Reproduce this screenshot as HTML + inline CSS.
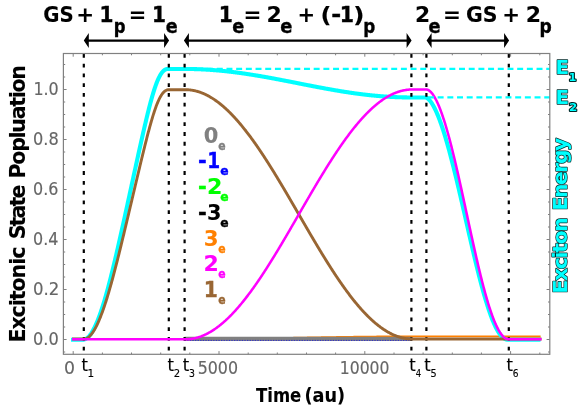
<!DOCTYPE html><html><head><meta charset="utf-8"><title>Excitonic State Population</title>
<style>html,body{margin:0;padding:0;background:#fff}svg{display:block}text{font-family:"DejaVu Sans Condensed","DejaVu Sans","Liberation Sans",sans-serif}.b{font-weight:bold}.r{font-family:"DejaVu Sans","Liberation Sans",sans-serif}</style></head><body>
<svg width="582" height="410" viewBox="0 0 582 410">
<rect width="582" height="410" fill="#fff"/>
<g fill="none" stroke-linejoin="round">
<path d="M190.43,339.00 L190.72,339.00 L191.02,338.99 L191.31,338.99 L191.60,338.99 L191.89,338.99 L192.18,338.99 L192.47,338.99 L192.77,338.99 L193.06,338.99 L193.35,338.99 L193.64,338.99 L193.93,338.99 L194.23,338.99 L194.52,338.99 L194.81,338.99 L195.10,338.99 L195.39,338.99 L195.69,338.98 L195.98,338.98 L196.27,338.98 L196.56,338.98 L196.85,338.98 L197.14,338.98 L197.44,338.98 L197.73,338.98 L198.02,338.98 L198.31,338.98 L198.60,338.98 L198.90,338.97 L199.19,338.97 L199.48,338.97 L199.77,338.97 L200.06,338.97 L200.35,338.97 L200.65,338.97 L200.94,338.97 L201.23,338.97 L201.52,338.96 L201.81,338.96 L202.11,338.96 L202.40,338.96 L202.69,338.96 L202.98,338.96 L203.27,338.96 L203.56,338.95 L203.86,338.95 L204.15,338.95 L204.44,338.95 L204.73,338.95 L205.02,338.95 L205.32,338.95 L205.61,338.94 L205.90,338.94 L206.19,338.94 L206.48,338.94 L206.77,338.94 L207.07,338.94 L207.36,338.94 L207.65,338.93 L207.94,338.93 L208.23,338.93 L208.53,338.93 L208.82,338.93 L209.11,338.93 L209.40,338.92 L209.69,338.92 L209.98,338.92 L210.28,338.92 L210.57,338.92 L210.86,338.91 L211.15,338.91 L211.44,338.91 L211.74,338.91 L212.03,338.91 L212.32,338.90 L212.61,338.90 L212.90,338.90 L213.20,338.90 L213.49,338.90 L213.78,338.89 L214.07,338.89 L214.36,338.89 L214.65,338.89 L214.95,338.89 L215.24,338.88 L215.53,338.88 L215.82,338.88 L216.11,338.88 L216.41,338.87 L216.70,338.87 L216.99,338.87 L217.28,338.87 L217.57,338.87 L217.86,338.86 L218.16,338.86 L218.45,338.86 L218.74,338.86 L219.03,338.85 L219.32,338.85 L219.62,338.85 L219.91,338.85 L220.20,338.84 L220.49,338.84 L220.78,338.84 L221.07,338.84 L221.37,338.83 L221.66,338.83 L221.95,338.83 L222.24,338.83 L222.53,338.82 L222.83,338.82 L223.12,338.82 L223.41,338.81 L223.70,338.81 L223.99,338.81 L224.28,338.81 L224.58,338.80 L224.87,338.80 L225.16,338.80 L225.45,338.80 L225.74,338.79 L226.04,338.79 L226.33,338.79 L226.62,338.78 L226.91,338.78 L227.20,338.78 L227.50,338.78 L227.79,338.77 L228.08,338.77 L228.37,338.77 L228.66,338.76 L228.95,338.76 L229.25,338.76 L229.54,338.75 L229.83,338.75 L230.12,338.75 L230.41,338.74 L230.71,338.74 L231.00,338.74 L231.29,338.73 L231.58,338.73 L231.87,338.73 L232.16,338.73 L232.46,338.72 L232.75,338.72 L233.04,338.72 L233.33,338.71 L233.62,338.71 L233.92,338.71 L234.21,338.70 L234.50,338.70 L234.79,338.70 L235.08,338.69 L235.37,338.69 L235.67,338.69 L235.96,338.68 L236.25,338.68 L236.54,338.67 L236.83,338.67 L237.13,338.67 L237.42,338.66 L237.71,338.66 L238.00,338.66 L238.29,338.65 L238.58,338.65 L238.88,338.65 L239.17,338.64 L239.46,338.64 L239.75,338.64 L240.04,338.63 L240.34,338.63 L240.63,338.62 L240.92,338.62 L241.21,338.62 L241.50,338.61 L241.80,338.61 L242.09,338.61 L242.38,338.60 L242.67,338.60 L242.96,338.59 L243.25,338.59 L243.55,338.59 L243.84,338.58 L244.13,338.58 L244.42,338.57 L244.71,338.57 L245.01,338.57 L245.30,338.56 L245.59,338.56 L245.88,338.55 L246.17,338.55 L246.46,338.55 L246.76,338.54 L247.05,338.54 L247.34,338.53 L247.63,338.53 L247.92,338.53 L248.22,338.52 L248.51,338.52 L248.80,338.51 L249.09,338.51 L249.38,338.51 L249.67,338.50 L249.97,338.50 L250.26,338.49 L250.55,338.49 L250.84,338.49 L251.13,338.48 L251.43,338.48 L251.72,338.47 L252.01,338.47 L252.30,338.46 L252.59,338.46 L252.88,338.46 L253.18,338.45 L253.47,338.45 L253.76,338.44 L254.05,338.44 L254.34,338.43 L254.64,338.43 L254.93,338.42 L255.22,338.42 L255.51,338.42 L255.80,338.41 L256.10,338.41 L256.39,338.40 L256.68,338.40 L256.97,338.39 L257.26,338.39 L257.55,338.38 L257.85,338.38 L258.14,338.38 L258.43,338.37 L258.72,338.37 L259.01,338.36 L259.31,338.36 L259.60,338.35 L259.89,338.35 L260.18,338.34 L260.47,338.34 L260.76,338.33 L261.06,338.33 L261.35,338.33 L261.64,338.32 L261.93,338.32 L262.22,338.31 L262.52,338.31 L262.81,338.30 L263.10,338.30 L263.39,338.29 L263.68,338.29 L263.97,338.28 L264.27,338.28 L264.56,338.27 L264.85,338.27 L265.14,338.26 L265.43,338.26 L265.73,338.25 L266.02,338.25 L266.31,338.25 L266.60,338.24 L266.89,338.24 L267.18,338.23 L267.48,338.23 L267.77,338.22 L268.06,338.22 L268.35,338.21 L268.64,338.21 L268.94,338.20 L269.23,338.20 L269.52,338.19 L269.81,338.19 L270.10,338.18 L270.39,338.18 L270.69,338.17 L270.98,338.17 L271.27,338.16 L271.56,338.16 L271.85,338.15 L272.15,338.15 L272.44,338.14 L272.73,338.14 L273.02,338.13 L273.31,338.13 L273.61,338.12 L273.90,338.12 L274.19,338.11 L274.48,338.11 L274.77,338.10 L275.06,338.10 L275.36,338.09 L275.65,338.09 L275.94,338.08 L276.23,338.08 L276.52,338.07 L276.82,338.07 L277.11,338.06 L277.40,338.06 L277.69,338.05 L277.98,338.05 L278.27,338.04 L278.57,338.04 L278.86,338.03 L279.15,338.03 L279.44,338.02 L279.73,338.02 L280.03,338.01 L280.32,338.01 L280.61,338.00 L280.90,338.00 L281.19,337.99 L281.48,337.99 L281.78,337.98 L282.07,337.97 L282.36,337.97 L282.65,337.96 L282.94,337.96 L283.24,337.95 L283.53,337.95 L283.82,337.94 L284.11,337.94 L284.40,337.93 L284.69,337.93 L284.99,337.92 L285.28,337.92 L285.57,337.91 L285.86,337.91 L286.15,337.90 L286.45,337.90 L286.74,337.89 L287.03,337.89 L287.32,337.88 L287.61,337.88 L287.91,337.87 L288.20,337.87 L288.49,337.86 L288.78,337.85 L289.07,337.85 L289.36,337.84 L289.66,337.84 L289.95,337.83 L290.24,337.83 L290.53,337.82 L290.82,337.82 L291.12,337.81 L291.41,337.81 L291.70,337.80 L291.99,337.80 L292.28,337.79 L292.57,337.79 L292.87,337.78 L293.16,337.78 L293.45,337.77 L293.74,337.76 L294.03,337.76 L294.33,337.75 L294.62,337.75 L294.91,337.74 L295.20,337.74 L295.49,337.73 L295.78,337.73 L296.08,337.72 L296.37,337.72 L296.66,337.71 L296.95,337.71 L297.24,337.70 L297.54,337.70 L297.83,337.69 L298.12,337.69 L298.41,337.68 L298.70,337.67 L298.99,337.67 L299.29,337.66 L299.58,337.66 L299.87,337.65 L300.16,337.65 L300.45,337.64 L300.75,337.64 L301.04,337.63 L301.33,337.63 L301.62,337.62 L301.91,337.62 L302.21,337.61 L302.50,337.61 L302.79,337.60 L303.08,337.60 L303.37,337.59 L303.66,337.58 L303.96,337.58 L304.25,337.57 L304.54,337.57 L304.83,337.56 L305.12,337.56 L305.42,337.55 L305.71,337.55 L306.00,337.54 L306.29,337.54 L306.58,337.53 L306.87,337.53 L307.17,337.52 L307.46,337.52 L307.75,337.51 L308.04,337.51 L308.33,337.50 L308.63,337.50 L308.92,337.49 L309.21,337.48 L309.50,337.48 L309.79,337.47 L310.08,337.47 L310.38,337.46 L310.67,337.46 L310.96,337.45 L311.25,337.45 L311.54,337.44 L311.84,337.44 L312.13,337.43 L312.42,337.43 L312.71,337.42 L313.00,337.42 L313.29,337.41 L313.59,337.41 L313.88,337.40 L314.17,337.40 L314.46,337.39 L314.75,337.39 L315.05,337.38 L315.34,337.38 L315.63,337.37 L315.92,337.37 L316.21,337.36 L316.51,337.35 L316.80,337.35 L317.09,337.34 L317.38,337.34 L317.67,337.33 L317.96,337.33 L318.26,337.32 L318.55,337.32 L318.84,337.31 L319.13,337.31 L319.42,337.30 L319.72,337.30 L320.01,337.29 L320.30,337.29 L320.59,337.28 L320.88,337.28 L321.17,337.27 L321.47,337.27 L321.76,337.26 L322.05,337.26 L322.34,337.25 L322.63,337.25 L322.93,337.24 L323.22,337.24 L323.51,337.23 L323.80,337.23 L324.09,337.22 L324.38,337.22 L324.68,337.21 L324.97,337.21 L325.26,337.20 L325.55,337.20 L325.84,337.19 L326.14,337.19 L326.43,337.18 L326.72,337.18 L327.01,337.17 L327.30,337.17 L327.59,337.16 L327.89,337.16 L328.18,337.15 L328.47,337.15 L328.76,337.15 L329.05,337.14 L329.35,337.14 L329.64,337.13 L329.93,337.13 L330.22,337.12 L330.51,337.12 L330.80,337.11 L331.10,337.11 L331.39,337.10 L331.68,337.10 L331.97,337.09 L332.26,337.09 L332.56,337.08 L332.85,337.08 L333.14,337.07 L333.43,337.07 L333.72,337.06 L334.02,337.06 L334.31,337.05 L334.60,337.05 L334.89,337.05 L335.18,337.04 L335.47,337.04 L335.77,337.03 L336.06,337.03 L336.35,337.02 L336.64,337.02 L336.93,337.01 L337.23,337.01 L337.52,337.00 L337.81,337.00 L338.10,337.00 L338.39,336.99 L338.68,336.99 L338.98,336.98 L339.27,336.98 L339.56,336.97 L339.85,336.97 L340.14,336.96 L340.44,336.96 L340.73,336.96 L341.02,336.95 L341.31,336.95 L341.60,336.94 L341.89,336.94 L342.19,336.93 L342.48,336.93 L342.77,336.92 L343.06,336.92 L343.35,336.92 L343.65,336.91 L343.94,336.91 L344.23,336.90 L344.52,336.90 L344.81,336.89 L345.10,336.89 L345.40,336.89 L345.69,336.88 L345.98,336.88 L346.27,336.87 L346.56,336.87 L346.86,336.87 L347.15,336.86 L347.44,336.86 L347.73,336.85 L348.02,336.85 L348.32,336.85 L348.61,336.84 L348.90,336.84 L349.19,336.83 L349.48,336.83 L349.77,336.82 L350.07,336.82 L350.36,336.82 L350.65,336.81 L350.94,336.81 L351.23,336.81 L351.53,336.80 L351.82,336.80 L352.11,336.79 L352.40,336.79 L352.69,336.79 L352.98,336.78 L353.28,336.78 L353.57,336.77 L353.86,336.77 L354.15,336.77 L354.44,336.76 L354.74,336.76 L355.03,336.76 L355.32,336.75 L355.61,336.75 L355.90,336.74 L356.19,336.74 L356.49,336.74 L356.78,336.73 L357.07,336.73 L357.36,336.73 L357.65,336.72 L357.95,336.72 L358.24,336.72 L358.53,336.71 L358.82,336.71 L359.11,336.70 L359.40,336.70 L359.70,336.70 L359.99,336.69 L360.28,336.69 L360.57,336.69 L360.86,336.68 L361.16,336.68 L361.45,336.68 L361.74,336.67 L362.03,336.67 L362.32,336.67 L362.62,336.66 L362.91,336.66 L363.20,336.66 L363.49,336.65 L363.78,336.65 L364.07,336.65 L364.37,336.64 L364.66,336.64 L364.95,336.64 L365.24,336.63 L365.53,336.63 L365.83,336.63 L366.12,336.62 L366.41,336.62 L366.70,336.62 L366.99,336.62 L367.28,336.61 L367.58,336.61 L367.87,336.61 L368.16,336.60 L368.45,336.60 L368.74,336.60 L369.04,336.59 L369.33,336.59 L369.62,336.59 L369.91,336.59 L370.20,336.58 L370.49,336.58 L370.79,336.58 L371.08,336.57 L371.37,336.57 L371.66,336.57 L371.95,336.57 L372.25,336.56 L372.54,336.56 L372.83,336.56 L373.12,336.56 L373.41,336.55 L373.70,336.55 L374.00,336.55 L374.29,336.54 L374.58,336.54 L374.87,336.54 L375.16,336.54 L375.46,336.53 L375.75,336.53 L376.04,336.53 L376.33,336.53 L376.62,336.52 L376.91,336.52 L377.21,336.52 L377.50,336.52 L377.79,336.51 L378.08,336.51 L378.37,336.51 L378.67,336.51 L378.96,336.51 L379.25,336.50 L379.54,336.50 L379.83,336.50 L380.13,336.50 L380.42,336.49 L380.71,336.49 L381.00,336.49 L381.29,336.49 L381.58,336.49 L381.88,336.48 L382.17,336.48 L382.46,336.48 L382.75,336.48 L383.04,336.47 L383.34,336.47 L383.63,336.47 L383.92,336.47 L384.21,336.47 L384.50,336.47 L384.79,336.46 L385.09,336.46 L385.38,336.46 L385.67,336.46 L385.96,336.46 L386.25,336.45 L386.55,336.45 L386.84,336.45 L387.13,336.45 L387.42,336.45 L387.71,336.45 L388.00,336.44 L388.30,336.44 L388.59,336.44 L388.88,336.44 L389.17,336.44 L389.46,336.44 L389.76,336.43 L390.05,336.43 L390.34,336.43 L390.63,336.43 L390.92,336.43 L391.21,336.43 L391.51,336.42 L391.80,336.42 L392.09,336.42 L392.38,336.42 L392.67,336.42 L392.97,336.42 L393.26,336.42 L393.55,336.41 L393.84,336.41 L394.13,336.41 L394.43,336.41 L394.72,336.41 L395.01,336.41 L395.30,336.41 L395.59,336.41 L395.88,336.41 L396.18,336.40 L396.47,336.40 L396.76,336.40 L397.05,336.40 L397.34,336.40 L397.64,336.40 L397.93,336.40 L398.22,336.40 L398.51,336.40 L398.80,336.39 L399.09,336.39 L399.39,336.39 L399.68,336.39 L399.97,336.39 L400.26,336.39 L400.55,336.39 L400.85,336.39 L401.14,336.39 L401.43,336.39 L401.72,336.39 L402.01,336.39 L402.30,336.39 L402.60,336.38 L402.89,336.38 L403.18,336.38 L403.47,336.38 L403.76,336.38 L404.06,336.38 L404.35,336.38 L404.64,336.38 L404.93,336.38 L405.22,336.38 L405.51,336.38 L405.81,336.38 L406.10,336.38 L406.39,336.38 L406.68,336.38 L406.97,336.38 L407.27,336.38 L407.56,336.38 L407.85,336.38 L408.14,336.38 L408.43,336.38 L408.73,336.38 L409.02,336.38 L409.31,336.38 L409.60,336.38 L409.89,336.38 L410.18,336.38 L410.48,336.38 L410.77,336.38 L411.06,336.38 L411.35,336.38 L411.64,336.38 L411.94,336.38 L412.23,336.38 L412.52,336.38 L412.81,336.38 L413.10,336.38 L413.39,336.38 L413.69,336.38 L413.98,336.38 L414.27,336.38 L414.56,336.38 L414.85,336.38 L415.15,336.38 L415.44,336.38 L415.73,336.38 L416.02,336.38 L416.31,336.38 L416.60,336.38 L416.90,336.38 L417.19,336.38 L417.48,336.38 L417.77,336.38 L418.06,336.38 L418.36,336.38 L418.65,336.38 L418.94,336.38 L419.23,336.38 L419.52,336.38 L419.81,336.38 L420.11,336.38 L420.40,336.38 L420.69,336.38 L420.98,336.38 L421.27,336.38 L421.57,336.38 L421.86,336.38 L422.15,336.38 L422.44,336.38 L422.73,336.38 L423.03,336.38 L423.32,336.38 L423.61,336.38 L423.90,336.38 L424.19,336.38 L424.48,336.38 L424.78,336.38 L425.07,336.38 L425.36,336.38 L425.65,336.38 L425.94,336.38 L426.24,336.38 L426.53,336.38 L426.82,336.38 L427.11,336.38 L427.40,336.38 L427.69,336.38 L427.99,336.38 L428.28,336.38 L428.57,336.38 L428.86,336.38 L429.15,336.38 L429.45,336.38 L429.74,336.38 L430.03,336.38 L430.32,336.38 L430.61,336.38 L430.90,336.38 L431.20,336.38 L431.49,336.38 L431.78,336.38 L432.07,336.38 L432.36,336.38 L432.66,336.38 L432.95,336.38 L433.24,336.38 L433.53,336.38 L433.82,336.38 L434.11,336.38 L434.41,336.38 L434.70,336.38 L434.99,336.38 L435.28,336.38 L435.57,336.38 L435.87,336.38 L436.16,336.38 L436.45,336.38 L436.74,336.38 L437.03,336.38 L437.32,336.38 L437.62,336.38 L437.91,336.38 L438.20,336.38 L438.49,336.38 L438.78,336.38 L439.08,336.38 L439.37,336.38 L439.66,336.38 L439.95,336.38 L440.24,336.38 L440.54,336.38 L440.83,336.38 L441.12,336.38 L441.41,336.38 L441.70,336.38 L441.99,336.38 L442.29,336.38 L442.58,336.38 L442.87,336.38 L443.16,336.38 L443.45,336.38 L443.75,336.38 L444.04,336.38 L444.33,336.38 L444.62,336.38 L444.91,336.38 L445.20,336.38 L445.50,336.38 L445.79,336.38 L446.08,336.38 L446.37,336.38 L446.66,336.38 L446.96,336.38 L447.25,336.38 L447.54,336.38 L447.83,336.38 L448.12,336.38 L448.41,336.38 L448.71,336.38 L449.00,336.38 L449.29,336.38 L449.58,336.38 L449.87,336.38 L450.17,336.38 L450.46,336.38 L450.75,336.38 L451.04,336.38 L451.33,336.38 L451.62,336.38 L451.92,336.38 L452.21,336.38 L452.50,336.38 L452.79,336.38 L453.08,336.38 L453.38,336.38 L453.67,336.38 L453.96,336.38 L454.25,336.38 L454.54,336.38 L454.84,336.38 L455.13,336.38 L455.42,336.38 L455.71,336.38 L456.00,336.38 L456.29,336.38 L456.59,336.38 L456.88,336.38 L457.17,336.38 L457.46,336.38 L457.75,336.38 L458.05,336.38 L458.34,336.38 L458.63,336.38 L458.92,336.38 L459.21,336.38 L459.50,336.38 L459.80,336.38 L460.09,336.38 L460.38,336.38 L460.67,336.38 L460.96,336.38 L461.26,336.38 L461.55,336.38 L461.84,336.38 L462.13,336.38 L462.42,336.38 L462.71,336.38 L463.01,336.38 L463.30,336.38 L463.59,336.38 L463.88,336.38 L464.17,336.38 L464.47,336.38 L464.76,336.38 L465.05,336.38 L465.34,336.38 L465.63,336.38 L465.92,336.38 L466.22,336.38 L466.51,336.38 L466.80,336.38 L467.09,336.38 L467.38,336.38 L467.68,336.38 L467.97,336.38 L468.26,336.38 L468.55,336.38 L468.84,336.38 L469.14,336.38 L469.43,336.38 L469.72,336.38 L470.01,336.38 L470.30,336.38 L470.59,336.38 L470.89,336.38 L471.18,336.38 L471.47,336.38 L471.76,336.38 L472.05,336.38 L472.35,336.38 L472.64,336.38 L472.93,336.38 L473.22,336.38 L473.51,336.38 L473.80,336.38 L474.10,336.38 L474.39,336.38 L474.68,336.38 L474.97,336.38 L475.26,336.38 L475.56,336.38 L475.85,336.38 L476.14,336.38 L476.43,336.38 L476.72,336.38 L477.01,336.38 L477.31,336.38 L477.60,336.38 L477.89,336.38 L478.18,336.38 L478.47,336.38 L478.77,336.38 L479.06,336.38 L479.35,336.38 L479.64,336.38 L479.93,336.38 L480.22,336.38 L480.52,336.38 L480.81,336.38 L481.10,336.38 L481.39,336.38 L481.68,336.38 L481.98,336.38 L482.27,336.38 L482.56,336.38 L482.85,336.38 L483.14,336.38 L483.44,336.38 L483.73,336.38 L484.02,336.38 L484.31,336.38 L484.60,336.38 L484.89,336.38 L485.19,336.38 L485.48,336.38 L485.77,336.38 L486.06,336.38 L486.35,336.38 L486.65,336.38 L486.94,336.38 L487.23,336.38 L487.52,336.38 L487.81,336.38 L488.10,336.38 L488.40,336.38 L488.69,336.38 L488.98,336.38 L489.27,336.38 L489.56,336.38 L489.86,336.38 L490.15,336.38 L490.44,336.38 L490.73,336.38 L491.02,336.38 L491.31,336.38 L491.61,336.38 L491.90,336.38 L492.19,336.38 L492.48,336.38 L492.77,336.38 L493.07,336.38 L493.36,336.38 L493.65,336.38 L493.94,336.38 L494.23,336.38 L494.52,336.38 L494.82,336.38 L495.11,336.38 L495.40,336.38 L495.69,336.38 L495.98,336.38 L496.28,336.38 L496.57,336.38 L496.86,336.38 L497.15,336.38 L497.44,336.38 L497.73,336.38 L498.03,336.38 L498.32,336.38 L498.61,336.38 L498.90,336.38 L499.19,336.38 L499.49,336.38 L499.78,336.38 L500.07,336.38 L500.36,336.38 L500.65,336.38 L500.95,336.38 L501.24,336.38 L501.53,336.38 L501.82,336.38 L502.11,336.38 L502.40,336.38 L502.70,336.38 L502.99,336.38 L503.28,336.38 L503.57,336.38 L503.86,336.38 L504.16,336.38 L504.45,336.38 L504.74,336.38 L505.03,336.38 L505.32,336.38 L505.61,336.38 L505.91,336.38 L506.20,336.38 L506.49,336.38 L506.78,336.38 L507.07,336.38 L507.37,336.38 L507.66,336.38 L507.95,336.38 L508.24,336.38 L508.53,336.38 L508.82,336.38 L509.12,336.38 L509.41,336.38 L509.70,336.38 L509.99,336.38 L510.28,336.38 L510.58,336.38 L510.87,336.38 L511.16,336.38 L511.45,336.38 L511.74,336.38 L512.03,336.38 L512.33,336.38 L512.62,336.38 L512.91,336.38 L513.20,336.38 L513.49,336.38 L513.79,336.38 L514.08,336.38 L514.37,336.38 L514.66,336.38 L514.95,336.38 L515.25,336.38 L515.54,336.38 L515.83,336.38 L516.12,336.38 L516.41,336.38 L516.70,336.38 L517.00,336.38 L517.29,336.38 L517.58,336.38 L517.87,336.38 L518.16,336.38 L518.46,336.38 L518.75,336.38 L519.04,336.38 L519.33,336.38 L519.62,336.38 L519.91,336.38 L520.21,336.38 L520.50,336.38 L520.79,336.38 L521.08,336.38 L521.37,336.38 L521.67,336.38 L521.96,336.38 L522.25,336.38 L522.54,336.38 L522.83,336.38 L523.12,336.38 L523.42,336.38 L523.71,336.38 L524.00,336.38 L524.29,336.38 L524.58,336.38 L524.88,336.38 L525.17,336.38 L525.46,336.38 L525.75,336.38 L526.04,336.38 L526.33,336.38 L526.63,336.38 L526.92,336.38 L527.21,336.38 L527.50,336.38 L527.79,336.38 L528.09,336.38 L528.38,336.38 L528.67,336.38 L528.96,336.38 L529.25,336.38 L529.55,336.38 L529.84,336.38 L530.13,336.38 L530.42,336.38 L530.71,336.38 L531.00,336.38 L531.30,336.38 L531.59,336.38 L531.88,336.38 L532.17,336.38 L532.46,336.38 L532.76,336.38 L533.05,336.38 L533.34,336.38 L533.63,336.38 L533.92,336.38 L534.21,336.38 L534.51,336.38 L534.80,336.38 L535.09,336.38 L535.38,336.38 L535.67,336.38 L535.97,336.38 L536.26,336.38 L536.55,336.38 L536.84,336.38 L537.13,336.38 L537.42,336.38 L537.72,336.38 L538.01,336.38 L538.30,336.38 L538.59,336.38 L538.88,336.38 L539.18,336.38 L539.47,336.38 L539.76,336.38 L540.05,336.38 L540.34,336.38 L540.63,336.38" stroke="#ff8000" stroke-width="1.8"/>
<path d="M184.6,338.95 H411.4" stroke="#808080" stroke-width="4.2"/>
<path d="M184.6,340.4 H411.4" stroke="#0000ff" stroke-opacity="0.65" stroke-width="1" stroke-dasharray="1.3 1.3"/>
<path d="M71.03,339.70 L71.42,339.70 L71.82,339.70 L72.21,339.70 L72.60,339.70 L72.99,339.70 L73.38,339.70 L73.77,339.70 L74.16,339.70 L74.55,339.70 L74.95,339.70 L75.34,339.70 L75.73,339.70 L76.12,339.70 L76.51,339.70 L76.90,339.70 L77.29,339.70 L77.68,339.70 L78.08,339.70 L78.47,339.70 L78.86,339.70 L79.25,339.70 L79.64,339.70 L80.03,339.70 L80.42,339.70 L80.81,339.70 L81.21,339.70 L81.60,339.70 L81.99,339.70 L82.38,339.70 L82.77,339.70 L83.16,339.69 L83.55,339.65 L83.94,339.58 L84.34,339.48 L84.73,339.36 L85.12,339.21 L85.51,339.03 L85.90,338.82 L86.29,338.58 L86.68,338.32 L87.07,338.03 L87.47,337.71 L87.86,337.37 L88.25,337.00 L88.64,336.60 L89.03,336.18 L89.42,335.73 L89.81,335.25 L90.20,334.75 L90.60,334.22 L90.99,333.67 L91.38,333.09 L91.77,332.48 L92.16,331.85 L92.55,331.20 L92.94,330.52 L93.33,329.81 L93.72,329.08 L94.12,328.33 L94.51,327.55 L94.90,326.75 L95.29,325.93 L95.68,325.08 L96.07,324.21 L96.46,323.32 L96.85,322.40 L97.25,321.46 L97.64,320.50 L98.03,319.52 L98.42,318.52 L98.81,317.49 L99.20,316.45 L99.59,315.38 L99.98,314.29 L100.38,313.18 L100.77,312.06 L101.16,310.91 L101.55,309.74 L101.94,308.56 L102.33,307.35 L102.72,306.13 L103.11,304.89 L103.51,303.63 L103.90,302.35 L104.29,301.05 L104.68,299.74 L105.07,298.41 L105.46,297.07 L105.85,295.71 L106.24,294.33 L106.64,292.94 L107.03,291.53 L107.42,290.10 L107.81,288.67 L108.20,287.21 L108.59,285.75 L108.98,284.27 L109.37,282.77 L109.77,281.27 L110.16,279.75 L110.55,278.21 L110.94,276.67 L111.33,275.11 L111.72,273.55 L112.11,271.97 L112.50,270.38 L112.90,268.78 L113.29,267.17 L113.68,265.55 L114.07,263.92 L114.46,262.28 L114.85,260.63 L115.24,258.98 L115.63,257.31 L116.03,255.64 L116.42,253.96 L116.81,252.27 L117.20,250.57 L117.59,248.87 L117.98,247.16 L118.37,245.45 L118.76,243.72 L119.15,242.00 L119.55,240.27 L119.94,238.53 L120.33,236.79 L120.72,235.04 L121.11,233.29 L121.50,231.53 L121.89,229.77 L122.28,228.01 L122.68,226.24 L123.07,224.47 L123.46,222.69 L123.85,220.92 L124.24,219.14 L124.63,217.36 L125.02,215.57 L125.41,213.79 L125.81,212.00 L126.20,210.21 L126.59,208.42 L126.98,206.62 L127.37,204.83 L127.76,203.03 L128.15,201.24 L128.54,199.44 L128.94,197.64 L129.33,195.84 L129.72,194.05 L130.11,192.25 L130.50,190.45 L130.89,188.65 L131.28,186.85 L131.67,185.05 L132.07,183.25 L132.46,181.45 L132.85,179.65 L133.24,177.85 L133.63,176.05 L134.02,174.25 L134.41,172.46 L134.80,170.66 L135.20,168.87 L135.59,167.07 L135.98,165.28 L136.37,163.49 L136.76,161.71 L137.15,159.92 L137.54,158.14 L137.93,156.35 L138.33,154.57 L138.72,152.80 L139.11,151.02 L139.50,149.25 L139.89,147.49 L140.28,145.73 L140.67,143.97 L141.06,142.21 L141.45,140.46 L141.85,138.72 L142.24,136.98 L142.63,135.25 L143.02,133.53 L143.41,131.81 L143.80,130.10 L144.19,128.40 L144.58,126.70 L144.98,125.02 L145.37,123.35 L145.76,121.68 L146.15,120.03 L146.54,118.39 L146.93,116.76 L147.32,115.15 L147.71,113.55 L148.11,111.97 L148.50,110.40 L148.89,108.85 L149.28,107.31 L149.67,105.80 L150.06,104.30 L150.45,102.83 L150.84,101.38 L151.24,99.94 L151.63,98.54 L152.02,97.15 L152.41,95.79 L152.80,94.46 L153.19,93.15 L153.58,91.88 L153.97,90.63 L154.37,89.41 L154.76,88.22 L155.15,87.06 L155.54,85.93 L155.93,84.84 L156.32,83.78 L156.71,82.75 L157.10,81.76 L157.50,80.81 L157.89,79.89 L158.28,79.01 L158.67,78.16 L159.06,77.36 L159.45,76.59 L159.84,75.85 L160.23,75.16 L160.63,74.50 L161.02,73.88 L161.41,73.31 L161.80,72.76 L162.19,72.26 L162.58,71.79 L162.97,71.37 L163.36,70.97 L163.76,70.62 L164.15,70.30 L164.54,70.02 L164.93,69.77 L165.32,69.56 L165.71,69.38 L166.10,69.23 L166.49,69.11 L166.88,69.03 L167.28,68.98 L167.67,68.95 L168.06,68.95 L168.45,68.95 L168.84,68.95 L169.23,68.95 L169.62,68.95 L170.01,68.95 L170.41,68.95 L170.80,68.95 L171.19,68.95 L171.58,68.95 L171.97,68.95 L172.36,68.95 L172.75,68.95 L173.14,68.95 L173.54,68.95 L173.93,68.95 L174.32,68.95 L174.71,68.95 L175.10,68.95 L175.49,68.95 L175.88,68.95 L176.27,68.95 L176.67,68.95 L177.06,68.95 L177.45,68.95 L177.84,68.95 L178.23,68.95 L178.62,68.95 L179.01,68.95 L179.40,68.95 L179.80,68.95 L180.19,68.95 L180.58,68.95 L180.97,68.95 L181.36,68.95 L181.75,68.95 L182.14,68.95 L182.53,68.95 L182.93,68.95 L183.32,68.95 L183.71,68.95 L184.10,68.95 L184.49,68.95 L184.88,68.95 L185.27,68.95 L185.66,68.95 L186.06,68.95 L186.45,68.96 L186.84,68.96 L187.23,68.96 L187.62,68.96 L188.01,68.97 L188.40,68.97 L188.79,68.98 L189.19,68.98 L189.58,68.99 L189.97,68.99 L190.36,69.00 L190.75,69.01 L191.14,69.01 L191.53,69.02 L191.92,69.03 L192.31,69.04 L192.71,69.04 L193.10,69.05 L193.49,69.06 L193.88,69.07 L194.27,69.08 L194.66,69.09 L195.05,69.10 L195.44,69.12 L195.84,69.13 L196.23,69.14 L196.62,69.15 L197.01,69.17 L197.40,69.18 L197.79,69.19 L198.18,69.21 L198.57,69.22 L198.97,69.24 L199.36,69.25 L199.75,69.27 L200.14,69.29 L200.53,69.30 L200.92,69.32 L201.31,69.34 L201.70,69.36 L202.10,69.38 L202.49,69.39 L202.88,69.41 L203.27,69.43 L203.66,69.45 L204.05,69.47 L204.44,69.50 L204.83,69.52 L205.23,69.54 L205.62,69.56 L206.01,69.58 L206.40,69.61 L206.79,69.63 L207.18,69.65 L207.57,69.68 L207.96,69.70 L208.36,69.73 L208.75,69.75 L209.14,69.78 L209.53,69.80 L209.92,69.83 L210.31,69.86 L210.70,69.89 L211.09,69.91 L211.49,69.94 L211.88,69.97 L212.27,70.00 L212.66,70.03 L213.05,70.06 L213.44,70.09 L213.83,70.12 L214.22,70.15 L214.62,70.18 L215.01,70.21 L215.40,70.24 L215.79,70.28 L216.18,70.31 L216.57,70.34 L216.96,70.38 L217.35,70.41 L217.74,70.44 L218.14,70.48 L218.53,70.51 L218.92,70.55 L219.31,70.58 L219.70,70.62 L220.09,70.66 L220.48,70.69 L220.87,70.73 L221.27,70.77 L221.66,70.81 L222.05,70.84 L222.44,70.88 L222.83,70.92 L223.22,70.96 L223.61,71.00 L224.00,71.04 L224.40,71.08 L224.79,71.12 L225.18,71.16 L225.57,71.21 L225.96,71.25 L226.35,71.29 L226.74,71.33 L227.13,71.37 L227.53,71.42 L227.92,71.46 L228.31,71.51 L228.70,71.55 L229.09,71.59 L229.48,71.64 L229.87,71.68 L230.26,71.73 L230.66,71.78 L231.05,71.82 L231.44,71.87 L231.83,71.92 L232.22,71.96 L232.61,72.01 L233.00,72.06 L233.39,72.11 L233.79,72.16 L234.18,72.21 L234.57,72.25 L234.96,72.30 L235.35,72.35 L235.74,72.40 L236.13,72.45 L236.52,72.51 L236.92,72.56 L237.31,72.61 L237.70,72.66 L238.09,72.71 L238.48,72.76 L238.87,72.82 L239.26,72.87 L239.65,72.92 L240.04,72.98 L240.44,73.03 L240.83,73.09 L241.22,73.14 L241.61,73.20 L242.00,73.25 L242.39,73.31 L242.78,73.36 L243.17,73.42 L243.57,73.47 L243.96,73.53 L244.35,73.59 L244.74,73.64 L245.13,73.70 L245.52,73.76 L245.91,73.82 L246.30,73.88 L246.70,73.93 L247.09,73.99 L247.48,74.05 L247.87,74.11 L248.26,74.17 L248.65,74.23 L249.04,74.29 L249.43,74.35 L249.83,74.41 L250.22,74.47 L250.61,74.53 L251.00,74.60 L251.39,74.66 L251.78,74.72 L252.17,74.78 L252.56,74.84 L252.96,74.91 L253.35,74.97 L253.74,75.03 L254.13,75.10 L254.52,75.16 L254.91,75.22 L255.30,75.29 L255.69,75.35 L256.09,75.42 L256.48,75.48 L256.87,75.55 L257.26,75.61 L257.65,75.68 L258.04,75.74 L258.43,75.81 L258.82,75.87 L259.22,75.94 L259.61,76.01 L260.00,76.07 L260.39,76.14 L260.78,76.21 L261.17,76.28 L261.56,76.34 L261.95,76.41 L262.35,76.48 L262.74,76.55 L263.13,76.62 L263.52,76.68 L263.91,76.75 L264.30,76.82 L264.69,76.89 L265.08,76.96 L265.47,77.03 L265.87,77.10 L266.26,77.17 L266.65,77.24 L267.04,77.31 L267.43,77.38 L267.82,77.45 L268.21,77.52 L268.60,77.59 L269.00,77.66 L269.39,77.74 L269.78,77.81 L270.17,77.88 L270.56,77.95 L270.95,78.02 L271.34,78.09 L271.73,78.17 L272.13,78.24 L272.52,78.31 L272.91,78.38 L273.30,78.46 L273.69,78.53 L274.08,78.60 L274.47,78.68 L274.86,78.75 L275.26,78.82 L275.65,78.90 L276.04,78.97 L276.43,79.04 L276.82,79.12 L277.21,79.19 L277.60,79.27 L277.99,79.34 L278.39,79.41 L278.78,79.49 L279.17,79.56 L279.56,79.64 L279.95,79.71 L280.34,79.79 L280.73,79.86 L281.12,79.94 L281.52,80.01 L281.91,80.09 L282.30,80.16 L282.69,80.24 L283.08,80.31 L283.47,80.39 L283.86,80.47 L284.25,80.54 L284.65,80.62 L285.04,80.69 L285.43,80.77 L285.82,80.85 L286.21,80.92 L286.60,81.00 L286.99,81.07 L287.38,81.15 L287.78,81.23 L288.17,81.30 L288.56,81.38 L288.95,81.46 L289.34,81.53 L289.73,81.61 L290.12,81.69 L290.51,81.76 L290.90,81.84 L291.30,81.92 L291.69,81.99 L292.08,82.07 L292.47,82.15 L292.86,82.23 L293.25,82.30 L293.64,82.38 L294.03,82.46 L294.43,82.53 L294.82,82.61 L295.21,82.69 L295.60,82.77 L295.99,82.84 L296.38,82.92 L296.77,83.00 L297.16,83.07 L297.56,83.15 L297.95,83.23 L298.34,83.31 L298.73,83.38 L299.12,83.46 L299.51,83.54 L299.90,83.62 L300.29,83.69 L300.69,83.77 L301.08,83.85 L301.47,83.92 L301.86,84.00 L302.25,84.08 L302.64,84.15 L303.03,84.23 L303.42,84.31 L303.82,84.39 L304.21,84.46 L304.60,84.54 L304.99,84.62 L305.38,84.69 L305.77,84.77 L306.16,84.85 L306.55,84.92 L306.95,85.00 L307.34,85.08 L307.73,85.15 L308.12,85.23 L308.51,85.31 L308.90,85.38 L309.29,85.46 L309.68,85.54 L310.08,85.61 L310.47,85.69 L310.86,85.76 L311.25,85.84 L311.64,85.92 L312.03,85.99 L312.42,86.07 L312.81,86.14 L313.20,86.22 L313.60,86.29 L313.99,86.37 L314.38,86.44 L314.77,86.52 L315.16,86.59 L315.55,86.67 L315.94,86.74 L316.33,86.82 L316.73,86.89 L317.12,86.97 L317.51,87.04 L317.90,87.12 L318.29,87.19 L318.68,87.26 L319.07,87.34 L319.46,87.41 L319.86,87.49 L320.25,87.56 L320.64,87.63 L321.03,87.71 L321.42,87.78 L321.81,87.85 L322.20,87.93 L322.59,88.00 L322.99,88.07 L323.38,88.14 L323.77,88.22 L324.16,88.29 L324.55,88.36 L324.94,88.43 L325.33,88.50 L325.72,88.58 L326.12,88.65 L326.51,88.72 L326.90,88.79 L327.29,88.86 L327.68,88.93 L328.07,89.00 L328.46,89.07 L328.85,89.14 L329.25,89.21 L329.64,89.28 L330.03,89.35 L330.42,89.42 L330.81,89.49 L331.20,89.56 L331.59,89.63 L331.98,89.70 L332.38,89.77 L332.77,89.84 L333.16,89.90 L333.55,89.97 L333.94,90.04 L334.33,90.11 L334.72,90.17 L335.11,90.24 L335.51,90.31 L335.90,90.38 L336.29,90.44 L336.68,90.51 L337.07,90.57 L337.46,90.64 L337.85,90.71 L338.24,90.77 L338.63,90.84 L339.03,90.90 L339.42,90.97 L339.81,91.03 L340.20,91.10 L340.59,91.16 L340.98,91.22 L341.37,91.29 L341.76,91.35 L342.16,91.41 L342.55,91.48 L342.94,91.54 L343.33,91.60 L343.72,91.67 L344.11,91.73 L344.50,91.79 L344.89,91.85 L345.29,91.91 L345.68,91.97 L346.07,92.03 L346.46,92.09 L346.85,92.15 L347.24,92.21 L347.63,92.27 L348.02,92.33 L348.42,92.39 L348.81,92.45 L349.20,92.51 L349.59,92.57 L349.98,92.63 L350.37,92.68 L350.76,92.74 L351.15,92.80 L351.55,92.86 L351.94,92.91 L352.33,92.97 L352.72,93.02 L353.11,93.08 L353.50,93.14 L353.89,93.19 L354.28,93.25 L354.68,93.30 L355.07,93.36 L355.46,93.41 L355.85,93.46 L356.24,93.52 L356.63,93.57 L357.02,93.62 L357.41,93.67 L357.81,93.73 L358.20,93.78 L358.59,93.83 L358.98,93.88 L359.37,93.93 L359.76,93.98 L360.15,94.03 L360.54,94.08 L360.94,94.13 L361.33,94.18 L361.72,94.23 L362.11,94.28 L362.50,94.33 L362.89,94.38 L363.28,94.42 L363.67,94.47 L364.06,94.52 L364.46,94.57 L364.85,94.61 L365.24,94.66 L365.63,94.70 L366.02,94.75 L366.41,94.79 L366.80,94.84 L367.19,94.88 L367.59,94.93 L367.98,94.97 L368.37,95.01 L368.76,95.06 L369.15,95.10 L369.54,95.14 L369.93,95.18 L370.32,95.23 L370.72,95.27 L371.11,95.31 L371.50,95.35 L371.89,95.39 L372.28,95.43 L372.67,95.47 L373.06,95.51 L373.45,95.55 L373.85,95.58 L374.24,95.62 L374.63,95.66 L375.02,95.70 L375.41,95.73 L375.80,95.77 L376.19,95.81 L376.58,95.84 L376.98,95.88 L377.37,95.91 L377.76,95.95 L378.15,95.98 L378.54,96.02 L378.93,96.05 L379.32,96.08 L379.71,96.12 L380.11,96.15 L380.50,96.18 L380.89,96.21 L381.28,96.24 L381.67,96.27 L382.06,96.30 L382.45,96.34 L382.84,96.36 L383.24,96.39 L383.63,96.42 L384.02,96.45 L384.41,96.48 L384.80,96.51 L385.19,96.54 L385.58,96.56 L385.97,96.59 L386.36,96.62 L386.76,96.64 L387.15,96.67 L387.54,96.69 L387.93,96.72 L388.32,96.74 L388.71,96.76 L389.10,96.79 L389.49,96.81 L389.89,96.83 L390.28,96.86 L390.67,96.88 L391.06,96.90 L391.45,96.92 L391.84,96.94 L392.23,96.96 L392.62,96.98 L393.02,97.00 L393.41,97.02 L393.80,97.04 L394.19,97.06 L394.58,97.07 L394.97,97.09 L395.36,97.11 L395.75,97.13 L396.15,97.14 L396.54,97.16 L396.93,97.17 L397.32,97.19 L397.71,97.20 L398.10,97.22 L398.49,97.23 L398.88,97.24 L399.28,97.26 L399.67,97.27 L400.06,97.28 L400.45,97.29 L400.84,97.30 L401.23,97.31 L401.62,97.32 L402.01,97.33 L402.41,97.34 L402.80,97.35 L403.19,97.36 L403.58,97.37 L403.97,97.38 L404.36,97.39 L404.75,97.39 L405.14,97.40 L405.54,97.41 L405.93,97.41 L406.32,97.42 L406.71,97.42 L407.10,97.43 L407.49,97.43 L407.88,97.43 L408.27,97.44 L408.67,97.44 L409.06,97.44 L409.45,97.45 L409.84,97.45 L410.23,97.45 L410.62,97.45 L411.01,97.45 L411.40,97.45 L411.79,97.45 L412.19,97.45 L412.58,97.45 L412.97,97.45 L413.36,97.45 L413.75,97.45 L414.14,97.45 L414.53,97.45 L414.92,97.45 L415.32,97.45 L415.71,97.45 L416.10,97.45 L416.49,97.45 L416.88,97.45 L417.27,97.45 L417.66,97.45 L418.05,97.45 L418.45,97.45 L418.84,97.45 L419.23,97.45 L419.62,97.45 L420.01,97.45 L420.40,97.45 L420.79,97.45 L421.18,97.45 L421.58,97.45 L421.97,97.45 L422.36,97.45 L422.75,97.45 L423.14,97.45 L423.53,97.45 L423.92,97.45 L424.31,97.45 L424.71,97.45 L425.10,97.45 L425.49,97.46 L425.88,97.55 L426.27,97.69 L426.66,97.87 L427.05,98.09 L427.44,98.35 L427.84,98.64 L428.23,98.97 L428.62,99.32 L429.01,99.71 L429.40,100.13 L429.79,100.57 L430.18,101.05 L430.57,101.55 L430.97,102.08 L431.36,102.63 L431.75,103.22 L432.14,103.83 L432.53,104.46 L432.92,105.12 L433.31,105.80 L433.70,106.51 L434.10,107.24 L434.49,108.00 L434.88,108.78 L435.27,109.58 L435.66,110.40 L436.05,111.25 L436.44,112.12 L436.83,113.01 L437.22,113.92 L437.62,114.85 L438.01,115.81 L438.40,116.78 L438.79,117.77 L439.18,118.79 L439.57,119.82 L439.96,120.87 L440.35,121.95 L440.75,123.04 L441.14,124.15 L441.53,125.27 L441.92,126.42 L442.31,127.58 L442.70,128.76 L443.09,129.96 L443.48,131.18 L443.88,132.41 L444.27,133.66 L444.66,134.92 L445.05,136.20 L445.44,137.50 L445.83,138.81 L446.22,140.13 L446.61,141.47 L447.01,142.83 L447.40,144.20 L447.79,145.58 L448.18,146.98 L448.57,148.39 L448.96,149.81 L449.35,151.25 L449.74,152.70 L450.14,154.16 L450.53,155.63 L450.92,157.12 L451.31,158.62 L451.70,160.12 L452.09,161.64 L452.48,163.17 L452.87,164.72 L453.27,166.27 L453.66,167.83 L454.05,169.40 L454.44,170.98 L454.83,172.57 L455.22,174.16 L455.61,175.77 L456.00,177.38 L456.40,179.00 L456.79,180.63 L457.18,182.27 L457.57,183.91 L457.96,185.56 L458.35,187.22 L458.74,188.88 L459.13,190.55 L459.52,192.23 L459.92,193.91 L460.31,195.59 L460.70,197.28 L461.09,198.97 L461.48,200.67 L461.87,202.37 L462.26,204.07 L462.65,205.78 L463.05,207.49 L463.44,209.20 L463.83,210.92 L464.22,212.63 L464.61,214.35 L465.00,216.07 L465.39,217.79 L465.78,219.51 L466.18,221.23 L466.57,222.95 L466.96,224.67 L467.35,226.39 L467.74,228.10 L468.13,229.82 L468.52,231.53 L468.91,233.25 L469.31,234.96 L469.70,236.66 L470.09,238.37 L470.48,240.07 L470.87,241.76 L471.26,243.46 L471.65,245.14 L472.04,246.83 L472.44,248.51 L472.83,250.18 L473.22,251.85 L473.61,253.51 L474.00,255.16 L474.39,256.81 L474.78,258.45 L475.17,260.08 L475.57,261.71 L475.96,263.33 L476.35,264.94 L476.74,266.54 L477.13,268.13 L477.52,269.71 L477.91,271.28 L478.30,272.84 L478.70,274.39 L479.09,275.94 L479.48,277.46 L479.87,278.98 L480.26,280.49 L480.65,281.98 L481.04,283.47 L481.43,284.94 L481.83,286.39 L482.22,287.83 L482.61,289.26 L483.00,290.68 L483.39,292.08 L483.78,293.47 L484.17,294.84 L484.56,296.19 L484.95,297.53 L485.35,298.86 L485.74,300.17 L486.13,301.46 L486.52,302.74 L486.91,303.99 L487.30,305.24 L487.69,306.46 L488.08,307.66 L488.48,308.85 L488.87,310.02 L489.26,311.17 L489.65,312.30 L490.04,313.41 L490.43,314.50 L490.82,315.57 L491.21,316.63 L491.61,317.66 L492.00,318.67 L492.39,319.66 L492.78,320.63 L493.17,321.57 L493.56,322.50 L493.95,323.40 L494.34,324.28 L494.74,325.14 L495.13,325.98 L495.52,326.79 L495.91,327.58 L496.30,328.35 L496.69,329.09 L497.08,329.81 L497.47,330.51 L497.87,331.18 L498.26,331.83 L498.65,332.45 L499.04,333.05 L499.43,333.62 L499.82,334.17 L500.21,334.69 L500.60,335.19 L501.00,335.66 L501.39,336.11 L501.78,336.53 L502.17,336.93 L502.56,337.30 L502.95,337.64 L503.34,337.96 L503.73,338.25 L504.13,338.52 L504.52,338.75 L504.91,338.97 L505.30,339.15 L505.69,339.31 L506.08,339.44 L506.47,339.54 L506.86,339.62 L507.26,339.67 L507.65,339.70 L508.04,339.70 L508.43,339.70 L508.82,339.70 L509.21,339.70 L509.60,339.70 L509.99,339.70 L510.38,339.70 L510.78,339.70 L511.17,339.70 L511.56,339.70 L511.95,339.70 L512.34,339.70 L512.73,339.70 L513.12,339.70 L513.51,339.70 L513.91,339.70 L514.30,339.70 L514.69,339.70 L515.08,339.70 L515.47,339.70 L515.86,339.70 L516.25,339.70 L516.64,339.70 L517.04,339.70 L517.43,339.70 L517.82,339.70 L518.21,339.70 L518.60,339.70 L518.99,339.70 L519.38,339.70 L519.77,339.70 L520.17,339.70 L520.56,339.70 L520.95,339.70 L521.34,339.70 L521.73,339.70 L522.12,339.70 L522.51,339.70 L522.90,339.70 L523.30,339.70 L523.69,339.70 L524.08,339.70 L524.47,339.70 L524.86,339.70 L525.25,339.70 L525.64,339.70 L526.03,339.70 L526.43,339.70 L526.82,339.70 L527.21,339.70 L527.60,339.70 L527.99,339.70 L528.38,339.70 L528.77,339.70 L529.16,339.70 L529.56,339.70 L529.95,339.70 L530.34,339.70 L530.73,339.70 L531.12,339.70 L531.51,339.70 L531.90,339.70 L532.29,339.70 L532.68,339.70 L533.08,339.70 L533.47,339.70 L533.86,339.70 L534.25,339.70 L534.64,339.70 L535.03,339.70 L535.42,339.70 L535.81,339.70 L536.21,339.70 L536.60,339.70 L536.99,339.70 L537.38,339.70 L537.77,339.70 L538.16,339.70 L538.55,339.70 L538.94,339.70 L539.34,339.70 L539.73,339.70 L540.12,339.70 L540.51,339.70" stroke="#00ffff" stroke-width="4.1"/>
</g>
<g stroke="#000" stroke-width="2.2" stroke-dasharray="3.8 5.96">
<path d="M83.8,54.0 V354.3"/>
<path d="M168.8,54.0 V354.3"/>
<path d="M184.6,54.0 V354.3"/>
<path d="M411.4,54.0 V354.3"/>
<path d="M426.4,54.0 V354.3"/>
<path d="M508.8,54.0 V354.3"/>
</g>
<g fill="none" stroke-linejoin="round">
<path d="M72.03,339.00 L72.42,339.00 L72.82,339.00 L73.21,339.00 L73.60,339.00 L73.99,339.00 L74.38,339.00 L74.77,339.00 L75.16,339.00 L75.55,339.00 L75.95,339.00 L76.34,339.00 L76.73,339.00 L77.12,339.00 L77.51,339.00 L77.90,339.00 L78.29,339.00 L78.68,339.00 L79.08,339.00 L79.47,339.00 L79.86,339.00 L80.25,339.00 L80.64,339.00 L81.03,339.00 L81.42,339.00 L81.81,339.00 L82.21,339.00 L82.60,339.00 L82.99,339.00 L83.38,339.00 L83.77,339.00 L84.16,338.99 L84.55,338.95 L84.94,338.89 L85.34,338.80 L85.73,338.69 L86.12,338.55 L86.51,338.38 L86.90,338.19 L87.29,337.97 L87.68,337.73 L88.07,337.46 L88.47,337.17 L88.86,336.85 L89.25,336.51 L89.64,336.15 L90.03,335.76 L90.42,335.34 L90.81,334.90 L91.20,334.44 L91.60,333.95 L91.99,333.44 L92.38,332.91 L92.77,332.35 L93.16,331.77 L93.55,331.17 L93.94,330.54 L94.33,329.89 L94.72,329.22 L95.12,328.53 L95.51,327.81 L95.90,327.08 L96.29,326.32 L96.68,325.54 L97.07,324.74 L97.46,323.91 L97.85,323.07 L98.25,322.21 L98.64,321.32 L99.03,320.42 L99.42,319.49 L99.81,318.55 L100.20,317.59 L100.59,316.61 L100.98,315.60 L101.38,314.58 L101.77,313.55 L102.16,312.49 L102.55,311.42 L102.94,310.32 L103.33,309.21 L103.72,308.09 L104.11,306.94 L104.51,305.78 L104.90,304.61 L105.29,303.42 L105.68,302.21 L106.07,300.98 L106.46,299.75 L106.85,298.49 L107.24,297.22 L107.64,295.94 L108.03,294.64 L108.42,293.33 L108.81,292.01 L109.20,290.67 L109.59,289.32 L109.98,287.96 L110.37,286.58 L110.77,285.20 L111.16,283.80 L111.55,282.39 L111.94,280.96 L112.33,279.53 L112.72,278.09 L113.11,276.63 L113.50,275.17 L113.90,273.70 L114.29,272.22 L114.68,270.72 L115.07,269.22 L115.46,267.71 L115.85,266.20 L116.24,264.67 L116.63,263.14 L117.03,261.60 L117.42,260.05 L117.81,258.49 L118.20,256.93 L118.59,255.37 L118.98,253.79 L119.37,252.21 L119.76,250.63 L120.15,249.04 L120.55,247.44 L120.94,245.84 L121.33,244.24 L121.72,242.63 L122.11,241.02 L122.50,239.40 L122.89,237.78 L123.28,236.16 L123.68,234.53 L124.07,232.90 L124.46,231.26 L124.85,229.63 L125.24,227.99 L125.63,226.35 L126.02,224.71 L126.41,223.06 L126.81,221.42 L127.20,219.77 L127.59,218.12 L127.98,216.47 L128.37,214.82 L128.76,213.16 L129.15,211.51 L129.54,209.85 L129.94,208.20 L130.33,206.54 L130.72,204.88 L131.11,203.23 L131.50,201.57 L131.89,199.91 L132.28,198.26 L132.67,196.60 L133.07,194.94 L133.46,193.28 L133.85,191.63 L134.24,189.97 L134.63,188.32 L135.02,186.66 L135.41,185.01 L135.80,183.35 L136.20,181.70 L136.59,180.05 L136.98,178.40 L137.37,176.75 L137.76,175.11 L138.15,173.46 L138.54,171.82 L138.93,170.18 L139.33,168.54 L139.72,166.91 L140.11,165.27 L140.50,163.64 L140.89,162.02 L141.28,160.39 L141.67,158.77 L142.06,157.16 L142.45,155.55 L142.85,153.94 L143.24,152.34 L143.63,150.75 L144.02,149.16 L144.41,147.58 L144.80,146.00 L145.19,144.44 L145.58,142.88 L145.98,141.33 L146.37,139.79 L146.76,138.25 L147.15,136.73 L147.54,135.22 L147.93,133.73 L148.32,132.24 L148.71,130.77 L149.11,129.31 L149.50,127.87 L149.89,126.44 L150.28,125.03 L150.67,123.63 L151.06,122.25 L151.45,120.90 L151.84,119.56 L152.24,118.24 L152.63,116.94 L153.02,115.67 L153.41,114.42 L153.80,113.19 L154.19,111.99 L154.58,110.81 L154.97,109.66 L155.37,108.54 L155.76,107.44 L156.15,106.37 L156.54,105.34 L156.93,104.33 L157.32,103.36 L157.71,102.41 L158.10,101.50 L158.50,100.62 L158.89,99.77 L159.28,98.96 L159.67,98.18 L160.06,97.44 L160.45,96.73 L160.84,96.06 L161.23,95.42 L161.63,94.81 L162.02,94.24 L162.41,93.71 L162.80,93.21 L163.19,92.75 L163.58,92.32 L163.97,91.92 L164.36,91.56 L164.76,91.24 L165.15,90.94 L165.54,90.68 L165.93,90.45 L166.32,90.26 L166.71,90.09 L167.10,89.96 L167.49,89.85 L167.88,89.77 L168.28,89.72 L168.67,89.70 L169.06,89.70 L169.45,89.70 L169.84,89.70 L170.23,89.70 L170.62,89.70 L171.01,89.70 L171.41,89.70 L171.80,89.70 L172.19,89.70 L172.58,89.70 L172.97,89.70 L173.36,89.70 L173.75,89.70 L174.14,89.70 L174.54,89.70 L174.93,89.70 L175.32,89.70 L175.71,89.70 L176.10,89.70 L176.49,89.70 L176.88,89.70 L177.27,89.70 L177.67,89.70 L178.06,89.70 L178.45,89.70 L178.84,89.70 L179.23,89.70 L179.62,89.70 L180.01,89.70 L180.40,89.70 L180.80,89.70 L181.19,89.70 L181.58,89.70 L181.97,89.70 L182.36,89.70 L182.75,89.70 L183.14,89.70 L183.53,89.70 L183.93,89.70 L184.32,89.70 L184.71,89.70 L185.10,89.70 L185.49,89.70 L185.88,89.70 L186.27,89.71 L186.66,89.72 L187.06,89.73 L187.45,89.75 L187.84,89.77 L188.23,89.80 L188.62,89.82 L189.01,89.86 L189.40,89.89 L189.79,89.93 L190.19,89.97 L190.58,90.02 L190.97,90.07 L191.36,90.12 L191.75,90.18 L192.14,90.24 L192.53,90.31 L192.92,90.38 L193.31,90.45 L193.71,90.52 L194.10,90.60 L194.49,90.69 L194.88,90.77 L195.27,90.86 L195.66,90.96 L196.05,91.05 L196.44,91.16 L196.84,91.26 L197.23,91.37 L197.62,91.48 L198.01,91.60 L198.40,91.72 L198.79,91.84 L199.18,91.96 L199.57,92.09 L199.97,92.23 L200.36,92.37 L200.75,92.51 L201.14,92.65 L201.53,92.80 L201.92,92.95 L202.31,93.11 L202.70,93.26 L203.10,93.43 L203.49,93.59 L203.88,93.76 L204.27,93.93 L204.66,94.11 L205.05,94.29 L205.44,94.47 L205.83,94.66 L206.23,94.85 L206.62,95.04 L207.01,95.24 L207.40,95.44 L207.79,95.65 L208.18,95.86 L208.57,96.07 L208.96,96.28 L209.36,96.50 L209.75,96.72 L210.14,96.95 L210.53,97.18 L210.92,97.41 L211.31,97.64 L211.70,97.88 L212.09,98.12 L212.49,98.37 L212.88,98.62 L213.27,98.87 L213.66,99.13 L214.05,99.39 L214.44,99.65 L214.83,99.92 L215.22,100.19 L215.62,100.46 L216.01,100.74 L216.40,101.01 L216.79,101.30 L217.18,101.58 L217.57,101.87 L217.96,102.17 L218.35,102.46 L218.74,102.76 L219.14,103.06 L219.53,103.37 L219.92,103.68 L220.31,103.99 L220.70,104.31 L221.09,104.63 L221.48,104.95 L221.87,105.27 L222.27,105.60 L222.66,105.93 L223.05,106.27 L223.44,106.61 L223.83,106.95 L224.22,107.29 L224.61,107.64 L225.00,107.99 L225.40,108.35 L225.79,108.70 L226.18,109.06 L226.57,109.43 L226.96,109.79 L227.35,110.16 L227.74,110.53 L228.13,110.91 L228.53,111.29 L228.92,111.67 L229.31,112.05 L229.70,112.44 L230.09,112.83 L230.48,113.22 L230.87,113.62 L231.26,114.02 L231.66,114.42 L232.05,114.83 L232.44,115.24 L232.83,115.65 L233.22,116.06 L233.61,116.48 L234.00,116.90 L234.39,117.32 L234.79,117.75 L235.18,118.17 L235.57,118.61 L235.96,119.04 L236.35,119.48 L236.74,119.92 L237.13,120.36 L237.52,120.80 L237.92,121.25 L238.31,121.70 L238.70,122.15 L239.09,122.61 L239.48,123.07 L239.87,123.53 L240.26,123.99 L240.65,124.46 L241.04,124.93 L241.44,125.40 L241.83,125.88 L242.22,126.35 L242.61,126.83 L243.00,127.32 L243.39,127.80 L243.78,128.29 L244.17,128.78 L244.57,129.27 L244.96,129.77 L245.35,130.26 L245.74,130.76 L246.13,131.27 L246.52,131.77 L246.91,132.28 L247.30,132.79 L247.70,133.30 L248.09,133.81 L248.48,134.33 L248.87,134.85 L249.26,135.37 L249.65,135.89 L250.04,136.42 L250.43,136.95 L250.83,137.48 L251.22,138.01 L251.61,138.55 L252.00,139.08 L252.39,139.62 L252.78,140.17 L253.17,140.71 L253.56,141.26 L253.96,141.80 L254.35,142.35 L254.74,142.91 L255.13,143.46 L255.52,144.02 L255.91,144.58 L256.30,145.14 L256.69,145.70 L257.09,146.27 L257.48,146.83 L257.87,147.40 L258.26,147.97 L258.65,148.55 L259.04,149.12 L259.43,149.70 L259.82,150.27 L260.22,150.86 L260.61,151.44 L261.00,152.02 L261.39,152.61 L261.78,153.20 L262.17,153.78 L262.56,154.38 L262.95,154.97 L263.35,155.56 L263.74,156.16 L264.13,156.76 L264.52,157.36 L264.91,157.96 L265.30,158.56 L265.69,159.17 L266.08,159.77 L266.47,160.38 L266.87,160.99 L267.26,161.60 L267.65,162.22 L268.04,162.83 L268.43,163.45 L268.82,164.06 L269.21,164.68 L269.60,165.30 L270.00,165.93 L270.39,166.55 L270.78,167.17 L271.17,167.80 L271.56,168.43 L271.95,169.05 L272.34,169.68 L272.73,170.32 L273.13,170.95 L273.52,171.58 L273.91,172.22 L274.30,172.85 L274.69,173.49 L275.08,174.13 L275.47,174.77 L275.86,175.41 L276.26,176.05 L276.65,176.70 L277.04,177.34 L277.43,177.99 L277.82,178.63 L278.21,179.28 L278.60,179.93 L278.99,180.58 L279.39,181.23 L279.78,181.88 L280.17,182.54 L280.56,183.19 L280.95,183.84 L281.34,184.50 L281.73,185.16 L282.12,185.81 L282.52,186.47 L282.91,187.13 L283.30,187.79 L283.69,188.45 L284.08,189.11 L284.47,189.77 L284.86,190.43 L285.25,191.10 L285.65,191.76 L286.04,192.43 L286.43,193.09 L286.82,193.76 L287.21,194.42 L287.60,195.09 L287.99,195.76 L288.38,196.43 L288.78,197.10 L289.17,197.77 L289.56,198.44 L289.95,199.11 L290.34,199.78 L290.73,200.45 L291.12,201.12 L291.51,201.79 L291.90,202.46 L292.30,203.14 L292.69,203.81 L293.08,204.48 L293.47,205.16 L293.86,205.83 L294.25,206.50 L294.64,207.18 L295.03,207.85 L295.43,208.53 L295.82,209.20 L296.21,209.88 L296.60,210.55 L296.99,211.23 L297.38,211.90 L297.77,212.58 L298.16,213.25 L298.56,213.93 L298.95,214.60 L299.34,215.28 L299.73,215.95 L300.12,216.63 L300.51,217.31 L300.90,217.98 L301.29,218.66 L301.69,219.33 L302.08,220.01 L302.47,220.68 L302.86,221.36 L303.25,222.03 L303.64,222.70 L304.03,223.38 L304.42,224.05 L304.82,224.72 L305.21,225.40 L305.60,226.07 L305.99,226.74 L306.38,227.41 L306.77,228.09 L307.16,228.76 L307.55,229.43 L307.95,230.10 L308.34,230.77 L308.73,231.44 L309.12,232.11 L309.51,232.77 L309.90,233.44 L310.29,234.11 L310.68,234.78 L311.08,235.44 L311.47,236.11 L311.86,236.77 L312.25,237.44 L312.64,238.10 L313.03,238.76 L313.42,239.43 L313.81,240.09 L314.20,240.75 L314.60,241.41 L314.99,242.07 L315.38,242.72 L315.77,243.38 L316.16,244.04 L316.55,244.69 L316.94,245.35 L317.33,246.00 L317.73,246.66 L318.12,247.31 L318.51,247.96 L318.90,248.61 L319.29,249.26 L319.68,249.91 L320.07,250.55 L320.46,251.20 L320.86,251.84 L321.25,252.49 L321.64,253.13 L322.03,253.77 L322.42,254.41 L322.81,255.05 L323.20,255.69 L323.59,256.32 L323.99,256.96 L324.38,257.59 L324.77,258.23 L325.16,258.86 L325.55,259.49 L325.94,260.12 L326.33,260.75 L326.72,261.37 L327.12,262.00 L327.51,262.62 L327.90,263.24 L328.29,263.86 L328.68,264.48 L329.07,265.10 L329.46,265.72 L329.85,266.33 L330.25,266.94 L330.64,267.56 L331.03,268.17 L331.42,268.77 L331.81,269.38 L332.20,269.99 L332.59,270.59 L332.98,271.19 L333.38,271.79 L333.77,272.39 L334.16,272.99 L334.55,273.58 L334.94,274.18 L335.33,274.77 L335.72,275.36 L336.11,275.95 L336.51,276.53 L336.90,277.12 L337.29,277.70 L337.68,278.28 L338.07,278.86 L338.46,279.44 L338.85,280.01 L339.24,280.59 L339.63,281.16 L340.03,281.73 L340.42,282.29 L340.81,282.86 L341.20,283.42 L341.59,283.98 L341.98,284.54 L342.37,285.10 L342.76,285.65 L343.16,286.21 L343.55,286.76 L343.94,287.31 L344.33,287.85 L344.72,288.40 L345.11,288.94 L345.50,289.48 L345.89,290.02 L346.29,290.55 L346.68,291.09 L347.07,291.62 L347.46,292.15 L347.85,292.67 L348.24,293.20 L348.63,293.72 L349.02,294.24 L349.42,294.76 L349.81,295.27 L350.20,295.79 L350.59,296.30 L350.98,296.80 L351.37,297.31 L351.76,297.81 L352.15,298.31 L352.55,298.81 L352.94,299.31 L353.33,299.80 L353.72,300.29 L354.11,300.78 L354.50,301.26 L354.89,301.75 L355.28,302.23 L355.68,302.70 L356.07,303.18 L356.46,303.65 L356.85,304.12 L357.24,304.59 L357.63,305.05 L358.02,305.52 L358.41,305.98 L358.81,306.43 L359.20,306.89 L359.59,307.34 L359.98,307.79 L360.37,308.23 L360.76,308.67 L361.15,309.12 L361.54,309.55 L361.94,309.99 L362.33,310.42 L362.72,310.85 L363.11,311.27 L363.50,311.70 L363.89,312.12 L364.28,312.54 L364.67,312.95 L365.06,313.36 L365.46,313.77 L365.85,314.18 L366.24,314.58 L366.63,314.98 L367.02,315.38 L367.41,315.77 L367.80,316.16 L368.19,316.55 L368.59,316.94 L368.98,317.32 L369.37,317.70 L369.76,318.07 L370.15,318.45 L370.54,318.82 L370.93,319.18 L371.32,319.55 L371.72,319.91 L372.11,320.27 L372.50,320.62 L372.89,320.97 L373.28,321.32 L373.67,321.67 L374.06,322.01 L374.45,322.35 L374.85,322.68 L375.24,323.02 L375.63,323.34 L376.02,323.67 L376.41,323.99 L376.80,324.31 L377.19,324.63 L377.58,324.94 L377.98,325.25 L378.37,325.56 L378.76,325.86 L379.15,326.16 L379.54,326.46 L379.93,326.75 L380.32,327.04 L380.71,327.33 L381.11,327.62 L381.50,327.90 L381.89,328.17 L382.28,328.45 L382.67,328.72 L383.06,328.98 L383.45,329.25 L383.84,329.51 L384.24,329.76 L384.63,330.02 L385.02,330.27 L385.41,330.51 L385.80,330.76 L386.19,331.00 L386.58,331.23 L386.97,331.47 L387.36,331.70 L387.76,331.92 L388.15,332.15 L388.54,332.36 L388.93,332.58 L389.32,332.79 L389.71,333.00 L390.10,333.21 L390.49,333.41 L390.89,333.61 L391.28,333.80 L391.67,333.99 L392.06,334.18 L392.45,334.36 L392.84,334.55 L393.23,334.72 L393.62,334.90 L394.02,335.07 L394.41,335.23 L394.80,335.40 L395.19,335.56 L395.58,335.71 L395.97,335.86 L396.36,336.01 L396.75,336.16 L397.15,336.30 L397.54,336.44 L397.93,336.57 L398.32,336.70 L398.71,336.83 L399.10,336.95 L399.49,337.07 L399.88,337.19 L400.28,337.30 L400.67,337.41 L401.06,337.52 L401.45,337.62 L401.84,337.72 L402.23,337.81 L402.62,337.90 L403.01,337.99 L403.41,338.08 L403.80,338.16 L404.19,338.23 L404.58,338.31 L404.97,338.38 L405.36,338.44 L405.75,338.50 L406.14,338.56 L406.54,338.62 L406.93,338.67 L407.32,338.72 L407.71,338.76 L408.10,338.80 L408.49,338.84 L408.88,338.87 L409.27,338.90 L409.67,338.92 L410.06,338.95 L410.45,338.96 L410.84,338.98 L411.23,338.99 L411.62,339.00 L412.01,339.00 L412.40,339.00 L412.79,339.00 L413.19,339.00 L413.58,339.00 L413.97,339.00 L414.36,339.00 L414.75,339.00 L415.14,339.00 L415.53,339.00 L415.92,339.00 L416.32,339.00 L416.71,339.00 L417.10,339.00 L417.49,339.00 L417.88,339.00 L418.27,339.00 L418.66,339.00 L419.05,339.00 L419.45,339.00 L419.84,339.00 L420.23,339.00 L420.62,339.00 L421.01,339.00 L421.40,339.00 L421.79,339.00 L422.18,339.00 L422.58,339.00 L422.97,339.00 L423.36,339.00 L423.75,339.00 L424.14,339.00 L424.53,339.00 L424.92,339.00 L425.31,339.00 L425.71,339.00 L426.10,339.00 L426.49,339.00 L426.88,339.00 L427.27,339.00 L427.66,339.00 L428.05,339.00 L428.44,339.00 L428.84,339.00 L429.23,339.00 L429.62,339.00 L430.01,339.00 L430.40,339.00 L430.79,339.00 L431.18,339.00 L431.57,339.00 L431.97,339.00 L432.36,339.00 L432.75,339.00 L433.14,339.00 L433.53,339.00 L433.92,339.00 L434.31,339.00 L434.70,339.00 L435.10,339.00 L435.49,339.00 L435.88,339.00 L436.27,339.00 L436.66,339.00 L437.05,339.00 L437.44,339.00 L437.83,339.00 L438.22,339.00 L438.62,339.00 L439.01,339.00 L439.40,339.00 L439.79,339.00 L440.18,339.00 L440.57,339.00 L440.96,339.00 L441.35,339.00 L441.75,339.00 L442.14,339.00 L442.53,339.00 L442.92,339.00 L443.31,339.00 L443.70,339.00 L444.09,339.00 L444.48,339.00 L444.88,339.00 L445.27,339.00 L445.66,339.00 L446.05,339.00 L446.44,339.00 L446.83,339.00 L447.22,339.00 L447.61,339.00 L448.01,339.00 L448.40,339.00 L448.79,339.00 L449.18,339.00 L449.57,339.00 L449.96,339.00 L450.35,339.00 L450.74,339.00 L451.14,339.00 L451.53,339.00 L451.92,339.00 L452.31,339.00 L452.70,339.00 L453.09,339.00 L453.48,339.00 L453.87,339.00 L454.27,339.00 L454.66,339.00 L455.05,339.00 L455.44,339.00 L455.83,339.00 L456.22,339.00 L456.61,339.00 L457.00,339.00 L457.40,339.00 L457.79,339.00 L458.18,339.00 L458.57,339.00 L458.96,339.00 L459.35,339.00 L459.74,339.00 L460.13,339.00 L460.52,339.00 L460.92,339.00 L461.31,339.00 L461.70,339.00 L462.09,339.00 L462.48,339.00 L462.87,339.00 L463.26,339.00 L463.65,339.00 L464.05,339.00 L464.44,339.00 L464.83,339.00 L465.22,339.00 L465.61,339.00 L466.00,339.00 L466.39,339.00 L466.78,339.00 L467.18,339.00 L467.57,339.00 L467.96,339.00 L468.35,339.00 L468.74,339.00 L469.13,339.00 L469.52,339.00 L469.91,339.00 L470.31,339.00 L470.70,339.00 L471.09,339.00 L471.48,339.00 L471.87,339.00 L472.26,339.00 L472.65,339.00 L473.04,339.00 L473.44,339.00 L473.83,339.00 L474.22,339.00 L474.61,339.00 L475.00,339.00 L475.39,339.00 L475.78,339.00 L476.17,339.00 L476.57,339.00 L476.96,339.00 L477.35,339.00 L477.74,339.00 L478.13,339.00 L478.52,339.00 L478.91,339.00 L479.30,339.00 L479.70,339.00 L480.09,339.00 L480.48,339.00 L480.87,339.00 L481.26,339.00 L481.65,339.00 L482.04,339.00 L482.43,339.00 L482.83,339.00 L483.22,339.00 L483.61,339.00 L484.00,339.00 L484.39,339.00 L484.78,339.00 L485.17,339.00 L485.56,339.00 L485.95,339.00 L486.35,339.00 L486.74,339.00 L487.13,339.00 L487.52,339.00 L487.91,339.00 L488.30,339.00 L488.69,339.00 L489.08,339.00 L489.48,339.00 L489.87,339.00 L490.26,339.00 L490.65,339.00 L491.04,339.00 L491.43,339.00 L491.82,339.00 L492.21,339.00 L492.61,339.00 L493.00,339.00 L493.39,339.00 L493.78,339.00 L494.17,339.00 L494.56,339.00 L494.95,339.00 L495.34,339.00 L495.74,339.00 L496.13,339.00 L496.52,339.00 L496.91,339.00 L497.30,339.00 L497.69,339.00 L498.08,339.00 L498.47,339.00 L498.87,339.00 L499.26,339.00 L499.65,339.00 L500.04,339.00 L500.43,339.00 L500.82,339.00 L501.21,339.00 L501.60,339.00 L502.00,339.00 L502.39,339.00 L502.78,339.00 L503.17,339.00 L503.56,339.00 L503.95,339.00 L504.34,339.00 L504.73,339.00 L505.13,339.00 L505.52,339.00 L505.91,339.00 L506.30,339.00 L506.69,339.00 L507.08,339.00 L507.47,339.00 L507.86,339.00 L508.26,339.00 L508.65,339.00 L509.04,339.00 L509.43,339.00 L509.82,339.00 L510.21,339.00 L510.60,339.00 L510.99,339.00 L511.38,339.00 L511.78,339.00 L512.17,339.00 L512.56,339.00 L512.95,339.00 L513.34,339.00 L513.73,339.00 L514.12,339.00 L514.51,339.00 L514.91,339.00 L515.30,339.00 L515.69,339.00 L516.08,339.00 L516.47,339.00 L516.86,339.00 L517.25,339.00 L517.64,339.00 L518.04,339.00 L518.43,339.00 L518.82,339.00 L519.21,339.00 L519.60,339.00 L519.99,339.00 L520.38,339.00 L520.77,339.00 L521.17,339.00 L521.56,339.00 L521.95,339.00 L522.34,339.00 L522.73,339.00 L523.12,339.00 L523.51,339.00 L523.90,339.00 L524.30,339.00 L524.69,339.00 L525.08,339.00 L525.47,339.00 L525.86,339.00 L526.25,339.00 L526.64,339.00 L527.03,339.00 L527.43,339.00 L527.82,339.00 L528.21,339.00 L528.60,339.00 L528.99,339.00 L529.38,339.00 L529.77,339.00 L530.16,339.00 L530.56,339.00 L530.95,339.00 L531.34,339.00 L531.73,339.00 L532.12,339.00 L532.51,339.00 L532.90,339.00 L533.29,339.00 L533.68,339.00 L534.08,339.00 L534.47,339.00 L534.86,339.00 L535.25,339.00 L535.64,339.00 L536.03,339.00 L536.42,339.00 L536.81,339.00 L537.21,339.00 L537.60,339.00 L537.99,339.00 L538.38,339.00 L538.77,339.00 L539.16,339.00 L539.55,339.00 L539.94,339.00 L540.34,339.00 L540.73,339.00 L541.12,339.00 L541.51,339.00" stroke="#996633" stroke-width="2.9"/>
<path d="M72.03,339.30 L72.42,339.30 L72.82,339.30 L73.21,339.30 L73.60,339.30 L73.99,339.30 L74.38,339.30 L74.77,339.30 L75.16,339.30 L75.55,339.30 L75.95,339.30 L76.34,339.30 L76.73,339.30 L77.12,339.30 L77.51,339.30 L77.90,339.30 L78.29,339.30 L78.68,339.30 L79.08,339.30 L79.47,339.30 L79.86,339.30 L80.25,339.30 L80.64,339.30 L81.03,339.30 L81.42,339.30 L81.81,339.30 L82.21,339.30 L82.60,339.30 L82.99,339.30 L83.38,339.30 L83.77,339.30 L84.16,339.30 L84.55,339.30 L84.94,339.30 L85.34,339.30 L85.73,339.30 L86.12,339.30 L86.51,339.30 L86.90,339.30 L87.29,339.30 L87.68,339.30 L88.07,339.30 L88.47,339.30 L88.86,339.30 L89.25,339.30 L89.64,339.30 L90.03,339.30 L90.42,339.30 L90.81,339.30 L91.20,339.30 L91.60,339.30 L91.99,339.30 L92.38,339.30 L92.77,339.30 L93.16,339.30 L93.55,339.30 L93.94,339.30 L94.33,339.30 L94.72,339.30 L95.12,339.30 L95.51,339.30 L95.90,339.30 L96.29,339.30 L96.68,339.30 L97.07,339.30 L97.46,339.30 L97.85,339.30 L98.25,339.30 L98.64,339.30 L99.03,339.30 L99.42,339.30 L99.81,339.30 L100.20,339.30 L100.59,339.30 L100.98,339.30 L101.38,339.30 L101.77,339.30 L102.16,339.30 L102.55,339.30 L102.94,339.30 L103.33,339.30 L103.72,339.30 L104.11,339.30 L104.51,339.30 L104.90,339.30 L105.29,339.30 L105.68,339.30 L106.07,339.30 L106.46,339.30 L106.85,339.30 L107.24,339.30 L107.64,339.30 L108.03,339.30 L108.42,339.30 L108.81,339.30 L109.20,339.30 L109.59,339.30 L109.98,339.30 L110.37,339.30 L110.77,339.30 L111.16,339.30 L111.55,339.30 L111.94,339.30 L112.33,339.30 L112.72,339.30 L113.11,339.30 L113.50,339.30 L113.90,339.30 L114.29,339.30 L114.68,339.30 L115.07,339.30 L115.46,339.30 L115.85,339.30 L116.24,339.30 L116.63,339.30 L117.03,339.30 L117.42,339.30 L117.81,339.30 L118.20,339.30 L118.59,339.30 L118.98,339.30 L119.37,339.30 L119.76,339.30 L120.15,339.30 L120.55,339.30 L120.94,339.30 L121.33,339.30 L121.72,339.30 L122.11,339.30 L122.50,339.30 L122.89,339.30 L123.28,339.30 L123.68,339.30 L124.07,339.30 L124.46,339.30 L124.85,339.30 L125.24,339.30 L125.63,339.30 L126.02,339.30 L126.41,339.30 L126.81,339.30 L127.20,339.30 L127.59,339.30 L127.98,339.30 L128.37,339.30 L128.76,339.30 L129.15,339.30 L129.54,339.30 L129.94,339.30 L130.33,339.30 L130.72,339.30 L131.11,339.30 L131.50,339.30 L131.89,339.30 L132.28,339.30 L132.67,339.30 L133.07,339.30 L133.46,339.30 L133.85,339.30 L134.24,339.30 L134.63,339.30 L135.02,339.30 L135.41,339.30 L135.80,339.30 L136.20,339.30 L136.59,339.30 L136.98,339.30 L137.37,339.30 L137.76,339.30 L138.15,339.30 L138.54,339.30 L138.93,339.30 L139.33,339.30 L139.72,339.30 L140.11,339.30 L140.50,339.30 L140.89,339.30 L141.28,339.30 L141.67,339.30 L142.06,339.30 L142.45,339.30 L142.85,339.30 L143.24,339.30 L143.63,339.30 L144.02,339.30 L144.41,339.30 L144.80,339.30 L145.19,339.30 L145.58,339.30 L145.98,339.30 L146.37,339.30 L146.76,339.30 L147.15,339.30 L147.54,339.30 L147.93,339.30 L148.32,339.30 L148.71,339.30 L149.11,339.30 L149.50,339.30 L149.89,339.30 L150.28,339.30 L150.67,339.30 L151.06,339.30 L151.45,339.30 L151.84,339.30 L152.24,339.30 L152.63,339.30 L153.02,339.30 L153.41,339.30 L153.80,339.30 L154.19,339.30 L154.58,339.30 L154.97,339.30 L155.37,339.30 L155.76,339.30 L156.15,339.30 L156.54,339.30 L156.93,339.30 L157.32,339.30 L157.71,339.30 L158.10,339.30 L158.50,339.30 L158.89,339.30 L159.28,339.30 L159.67,339.30 L160.06,339.30 L160.45,339.30 L160.84,339.30 L161.23,339.30 L161.63,339.30 L162.02,339.30 L162.41,339.30 L162.80,339.30 L163.19,339.30 L163.58,339.30 L163.97,339.30 L164.36,339.30 L164.76,339.30 L165.15,339.30 L165.54,339.30 L165.93,339.30 L166.32,339.30 L166.71,339.30 L167.10,339.30 L167.49,339.30 L167.88,339.30 L168.28,339.30 L168.67,339.30 L169.06,339.30 L169.45,339.30 L169.84,339.30 L170.23,339.30 L170.62,339.30 L171.01,339.30 L171.41,339.30 L171.80,339.30 L172.19,339.30 L172.58,339.30 L172.97,339.30 L173.36,339.30 L173.75,339.30 L174.14,339.30 L174.54,339.30 L174.93,339.30 L175.32,339.30 L175.71,339.30 L176.10,339.30 L176.49,339.30 L176.88,339.30 L177.27,339.30 L177.67,339.30 L178.06,339.30 L178.45,339.30 L178.84,339.30 L179.23,339.30 L179.62,339.30 L180.01,339.30 L180.40,339.30 L180.80,339.30 L181.19,339.30 L181.58,339.30 L181.97,339.30 L182.36,339.30 L182.75,339.30 L183.14,339.30 L183.53,339.30 L183.93,339.30 L184.32,339.30 L184.71,339.30 L185.10,339.30 L185.49,339.30 L185.88,339.30 L186.27,339.29 L186.66,339.28 L187.06,339.27 L187.45,339.25 L187.84,339.23 L188.23,339.20 L188.62,339.18 L189.01,339.14 L189.40,339.11 L189.79,339.07 L190.19,339.03 L190.58,338.98 L190.97,338.93 L191.36,338.87 L191.75,338.82 L192.14,338.76 L192.53,338.69 L192.92,338.62 L193.31,338.55 L193.71,338.47 L194.10,338.39 L194.49,338.31 L194.88,338.22 L195.27,338.13 L195.66,338.04 L196.05,337.94 L196.44,337.84 L196.84,337.74 L197.23,337.63 L197.62,337.52 L198.01,337.40 L198.40,337.28 L198.79,337.16 L199.18,337.03 L199.57,336.90 L199.97,336.77 L200.36,336.63 L200.75,336.49 L201.14,336.34 L201.53,336.20 L201.92,336.04 L202.31,335.89 L202.70,335.73 L203.10,335.57 L203.49,335.40 L203.88,335.23 L204.27,335.06 L204.66,334.88 L205.05,334.70 L205.44,334.52 L205.83,334.33 L206.23,334.14 L206.62,333.94 L207.01,333.75 L207.40,333.55 L207.79,333.34 L208.18,333.13 L208.57,332.92 L208.96,332.71 L209.36,332.49 L209.75,332.26 L210.14,332.04 L210.53,331.81 L210.92,331.58 L211.31,331.34 L211.70,331.10 L212.09,330.86 L212.49,330.61 L212.88,330.36 L213.27,330.11 L213.66,329.85 L214.05,329.59 L214.44,329.33 L214.83,329.06 L215.22,328.79 L215.62,328.52 L216.01,328.24 L216.40,327.96 L216.79,327.68 L217.18,327.39 L217.57,327.10 L217.96,326.81 L218.35,326.51 L218.74,326.21 L219.14,325.91 L219.53,325.60 L219.92,325.29 L220.31,324.98 L220.70,324.66 L221.09,324.34 L221.48,324.02 L221.87,323.69 L222.27,323.37 L222.66,323.03 L223.05,322.70 L223.44,322.36 L223.83,322.02 L224.22,321.67 L224.61,321.32 L225.00,320.97 L225.40,320.62 L225.79,320.26 L226.18,319.90 L226.57,319.54 L226.96,319.17 L227.35,318.80 L227.74,318.43 L228.13,318.05 L228.53,317.67 L228.92,317.29 L229.31,316.90 L229.70,316.51 L230.09,316.12 L230.48,315.73 L230.87,315.33 L231.26,314.93 L231.66,314.53 L232.05,314.12 L232.44,313.71 L232.83,313.30 L233.22,312.89 L233.61,312.47 L234.00,312.05 L234.39,311.62 L234.79,311.20 L235.18,310.77 L235.57,310.34 L235.96,309.90 L236.35,309.46 L236.74,309.02 L237.13,308.58 L237.52,308.13 L237.92,307.69 L238.31,307.23 L238.70,306.78 L239.09,306.32 L239.48,305.86 L239.87,305.40 L240.26,304.94 L240.65,304.47 L241.04,304.00 L241.44,303.53 L241.83,303.05 L242.22,302.57 L242.61,302.09 L243.00,301.61 L243.39,301.12 L243.78,300.63 L244.17,300.14 L244.57,299.65 L244.96,299.15 L245.35,298.66 L245.74,298.15 L246.13,297.65 L246.52,297.15 L246.91,296.64 L247.30,296.13 L247.70,295.61 L248.09,295.10 L248.48,294.58 L248.87,294.06 L249.26,293.54 L249.65,293.01 L250.04,292.49 L250.43,291.96 L250.83,291.42 L251.22,290.89 L251.61,290.35 L252.00,289.82 L252.39,289.28 L252.78,288.73 L253.17,288.19 L253.56,287.64 L253.96,287.09 L254.35,286.54 L254.74,285.99 L255.13,285.43 L255.52,284.87 L255.91,284.31 L256.30,283.75 L256.69,283.19 L257.09,282.62 L257.48,282.05 L257.87,281.48 L258.26,280.91 L258.65,280.34 L259.04,279.76 L259.43,279.18 L259.82,278.60 L260.22,278.02 L260.61,277.44 L261.00,276.85 L261.39,276.27 L261.78,275.68 L262.17,275.09 L262.56,274.49 L262.95,273.90 L263.35,273.30 L263.74,272.71 L264.13,272.11 L264.52,271.51 L264.91,270.90 L265.30,270.30 L265.69,269.69 L266.08,269.08 L266.47,268.48 L266.87,267.86 L267.26,267.25 L267.65,266.64 L268.04,266.02 L268.43,265.41 L268.82,264.79 L269.21,264.17 L269.60,263.54 L270.00,262.92 L270.39,262.30 L270.78,261.67 L271.17,261.04 L271.56,260.42 L271.95,259.79 L272.34,259.15 L272.73,258.52 L273.13,257.89 L273.52,257.25 L273.91,256.62 L274.30,255.98 L274.69,255.34 L275.08,254.70 L275.47,254.06 L275.86,253.42 L276.26,252.77 L276.65,252.13 L277.04,251.48 L277.43,250.84 L277.82,250.19 L278.21,249.54 L278.60,248.89 L278.99,248.24 L279.39,247.59 L279.78,246.93 L280.17,246.28 L280.56,245.62 L280.95,244.97 L281.34,244.31 L281.73,243.65 L282.12,242.99 L282.52,242.34 L282.91,241.68 L283.30,241.01 L283.69,240.35 L284.08,239.69 L284.47,239.03 L284.86,238.36 L285.25,237.70 L285.65,237.03 L286.04,236.37 L286.43,235.70 L286.82,235.03 L287.21,234.37 L287.60,233.70 L287.99,233.03 L288.38,232.36 L288.78,231.69 L289.17,231.02 L289.56,230.35 L289.95,229.68 L290.34,229.00 L290.73,228.33 L291.12,227.66 L291.51,226.98 L291.90,226.31 L292.30,225.64 L292.69,224.96 L293.08,224.29 L293.47,223.61 L293.86,222.94 L294.25,222.26 L294.64,221.59 L295.03,220.91 L295.43,220.24 L295.82,219.56 L296.21,218.88 L296.60,218.21 L296.99,217.53 L297.38,216.85 L297.77,216.18 L298.16,215.50 L298.56,214.82 L298.95,214.15 L299.34,213.47 L299.73,212.79 L300.12,212.12 L300.51,211.44 L300.90,210.76 L301.29,210.09 L301.69,209.41 L302.08,208.73 L302.47,208.06 L302.86,207.38 L303.25,206.71 L303.64,206.03 L304.03,205.35 L304.42,204.68 L304.82,204.00 L305.21,203.33 L305.60,202.66 L305.99,201.98 L306.38,201.31 L306.77,200.64 L307.16,199.96 L307.55,199.29 L307.95,198.62 L308.34,197.95 L308.73,197.28 L309.12,196.61 L309.51,195.94 L309.90,195.27 L310.29,194.60 L310.68,193.93 L311.08,193.27 L311.47,192.60 L311.86,191.93 L312.25,191.27 L312.64,190.60 L313.03,189.94 L313.42,189.27 L313.81,188.61 L314.20,187.95 L314.60,187.29 L314.99,186.63 L315.38,185.97 L315.77,185.31 L316.16,184.65 L316.55,184.00 L316.94,183.34 L317.33,182.68 L317.73,182.03 L318.12,181.38 L318.51,180.72 L318.90,180.07 L319.29,179.42 L319.68,178.77 L320.07,178.13 L320.46,177.48 L320.86,176.83 L321.25,176.19 L321.64,175.54 L322.03,174.90 L322.42,174.26 L322.81,173.62 L323.20,172.98 L323.59,172.34 L323.99,171.70 L324.38,171.07 L324.77,170.44 L325.16,169.80 L325.55,169.17 L325.94,168.54 L326.33,167.91 L326.72,167.28 L327.12,166.66 L327.51,166.03 L327.90,165.41 L328.29,164.79 L328.68,164.17 L329.07,163.55 L329.46,162.93 L329.85,162.32 L330.25,161.70 L330.64,161.09 L331.03,160.48 L331.42,159.87 L331.81,159.26 L332.20,158.65 L332.59,158.05 L332.98,157.44 L333.38,156.84 L333.77,156.24 L334.16,155.64 L334.55,155.05 L334.94,154.45 L335.33,153.86 L335.72,153.27 L336.11,152.68 L336.51,152.09 L336.90,151.51 L337.29,150.92 L337.68,150.34 L338.07,149.76 L338.46,149.18 L338.85,148.61 L339.24,148.03 L339.63,147.46 L340.03,146.89 L340.42,146.32 L340.81,145.75 L341.20,145.19 L341.59,144.63 L341.98,144.07 L342.37,143.51 L342.76,142.95 L343.16,142.40 L343.55,141.85 L343.94,141.30 L344.33,140.75 L344.72,140.20 L345.11,139.66 L345.50,139.12 L345.89,138.58 L346.29,138.04 L346.68,137.51 L347.07,136.98 L347.46,136.45 L347.85,135.92 L348.24,135.39 L348.63,134.87 L349.02,134.35 L349.42,133.83 L349.81,133.31 L350.20,132.80 L350.59,132.29 L350.98,131.78 L351.37,131.27 L351.76,130.77 L352.15,130.27 L352.55,129.77 L352.94,129.27 L353.33,128.78 L353.72,128.29 L354.11,127.80 L354.50,127.31 L354.89,126.83 L355.28,126.35 L355.68,125.87 L356.07,125.39 L356.46,124.92 L356.85,124.45 L357.24,123.98 L357.63,123.51 L358.02,123.05 L358.41,122.59 L358.81,122.13 L359.20,121.68 L359.59,121.23 L359.98,120.78 L360.37,120.33 L360.76,119.89 L361.15,119.44 L361.54,119.01 L361.94,118.57 L362.33,118.14 L362.72,117.71 L363.11,117.28 L363.50,116.86 L363.89,116.44 L364.28,116.02 L364.67,115.60 L365.06,115.19 L365.46,114.78 L365.85,114.37 L366.24,113.97 L366.63,113.57 L367.02,113.17 L367.41,112.78 L367.80,112.38 L368.19,111.99 L368.59,111.61 L368.98,111.23 L369.37,110.85 L369.76,110.47 L370.15,110.09 L370.54,109.72 L370.93,109.36 L371.32,108.99 L371.72,108.63 L372.11,108.27 L372.50,107.92 L372.89,107.56 L373.28,107.21 L373.67,106.87 L374.06,106.53 L374.45,106.19 L374.85,105.85 L375.24,105.52 L375.63,105.19 L376.02,104.86 L376.41,104.54 L376.80,104.22 L377.19,103.90 L377.58,103.59 L377.98,103.27 L378.37,102.97 L378.76,102.66 L379.15,102.36 L379.54,102.06 L379.93,101.77 L380.32,101.48 L380.71,101.19 L381.11,100.91 L381.50,100.63 L381.89,100.35 L382.28,100.07 L382.67,99.80 L383.06,99.54 L383.45,99.27 L383.84,99.01 L384.24,98.75 L384.63,98.50 L385.02,98.25 L385.41,98.00 L385.80,97.76 L386.19,97.52 L386.58,97.28 L386.97,97.05 L387.36,96.82 L387.76,96.59 L388.15,96.37 L388.54,96.15 L388.93,95.93 L389.32,95.72 L389.71,95.51 L390.10,95.30 L390.49,95.10 L390.89,94.90 L391.28,94.71 L391.67,94.52 L392.06,94.33 L392.45,94.14 L392.84,93.96 L393.23,93.79 L393.62,93.61 L394.02,93.44 L394.41,93.27 L394.80,93.11 L395.19,92.95 L395.58,92.79 L395.97,92.64 L396.36,92.49 L396.75,92.35 L397.15,92.21 L397.54,92.07 L397.93,91.93 L398.32,91.80 L398.71,91.67 L399.10,91.55 L399.49,91.43 L399.88,91.31 L400.28,91.20 L400.67,91.09 L401.06,90.98 L401.45,90.88 L401.84,90.78 L402.23,90.69 L402.62,90.60 L403.01,90.51 L403.41,90.43 L403.80,90.35 L404.19,90.27 L404.58,90.20 L404.97,90.13 L405.36,90.06 L405.75,90.00 L406.14,89.94 L406.54,89.88 L406.93,89.83 L407.32,89.79 L407.71,89.74 L408.10,89.70 L408.49,89.66 L408.88,89.63 L409.27,89.60 L409.67,89.58 L410.06,89.56 L410.45,89.54 L410.84,89.52 L411.23,89.51 L411.62,89.50 L412.01,89.50 L412.40,89.50 L412.79,89.50 L413.19,89.50 L413.58,89.50 L413.97,89.50 L414.36,89.50 L414.75,89.50 L415.14,89.50 L415.53,89.50 L415.92,89.50 L416.32,89.50 L416.71,89.50 L417.10,89.50 L417.49,89.50 L417.88,89.50 L418.27,89.50 L418.66,89.50 L419.05,89.50 L419.45,89.50 L419.84,89.50 L420.23,89.50 L420.62,89.50 L421.01,89.50 L421.40,89.50 L421.79,89.50 L422.18,89.50 L422.58,89.50 L422.97,89.50 L423.36,89.50 L423.75,89.50 L424.14,89.50 L424.53,89.50 L424.92,89.50 L425.31,89.50 L425.71,89.50 L426.10,89.50 L426.49,89.50 L426.88,89.56 L427.27,89.65 L427.66,89.78 L428.05,89.94 L428.44,90.14 L428.84,90.37 L429.23,90.63 L429.62,90.93 L430.01,91.25 L430.40,91.60 L430.79,91.99 L431.18,92.40 L431.57,92.84 L431.97,93.31 L432.36,93.81 L432.75,94.33 L433.14,94.89 L433.53,95.47 L433.92,96.08 L434.31,96.71 L434.70,97.37 L435.10,98.06 L435.49,98.77 L435.88,99.51 L436.27,100.27 L436.66,101.06 L437.05,101.87 L437.44,102.71 L437.83,103.58 L438.22,104.46 L438.62,105.37 L439.01,106.31 L439.40,107.26 L439.79,108.24 L440.18,109.24 L440.57,110.27 L440.96,111.32 L441.35,112.38 L441.75,113.48 L442.14,114.59 L442.53,115.72 L442.92,116.87 L443.31,118.05 L443.70,119.24 L444.09,120.46 L444.48,121.69 L444.88,122.94 L445.27,124.21 L445.66,125.50 L446.05,126.81 L446.44,128.14 L446.83,129.49 L447.22,130.85 L447.61,132.23 L448.01,133.62 L448.40,135.04 L448.79,136.47 L449.18,137.91 L449.57,139.37 L449.96,140.85 L450.35,142.34 L450.74,143.85 L451.14,145.37 L451.53,146.90 L451.92,148.45 L452.31,150.02 L452.70,151.59 L453.09,153.18 L453.48,154.78 L453.87,156.39 L454.27,158.01 L454.66,159.65 L455.05,161.30 L455.44,162.95 L455.83,164.62 L456.22,166.30 L456.61,167.98 L457.00,169.68 L457.40,171.39 L457.79,173.10 L458.18,174.82 L458.57,176.55 L458.96,178.29 L459.35,180.04 L459.74,181.79 L460.13,183.55 L460.52,185.31 L460.92,187.08 L461.31,188.86 L461.70,190.64 L462.09,192.43 L462.48,194.22 L462.87,196.01 L463.26,197.81 L463.65,199.61 L464.05,201.41 L464.44,203.22 L464.83,205.03 L465.22,206.84 L465.61,208.65 L466.00,210.46 L466.39,212.27 L466.78,214.09 L467.18,215.90 L467.57,217.72 L467.96,219.53 L468.35,221.34 L468.74,223.15 L469.13,224.96 L469.52,226.76 L469.91,228.57 L470.31,230.37 L470.70,232.16 L471.09,233.96 L471.48,235.75 L471.87,237.53 L472.26,239.31 L472.65,241.08 L473.04,242.85 L473.44,244.62 L473.83,246.37 L474.22,248.12 L474.61,249.87 L475.00,251.60 L475.39,253.33 L475.78,255.05 L476.17,256.76 L476.57,258.47 L476.96,260.16 L477.35,261.84 L477.74,263.52 L478.13,265.18 L478.52,266.84 L478.91,268.48 L479.30,270.11 L479.70,271.73 L480.09,273.34 L480.48,274.94 L480.87,276.52 L481.26,278.09 L481.65,279.65 L482.04,281.19 L482.43,282.72 L482.83,284.24 L483.22,285.74 L483.61,287.23 L484.00,288.70 L484.39,290.16 L484.78,291.60 L485.17,293.02 L485.56,294.43 L485.95,295.82 L486.35,297.19 L486.74,298.55 L487.13,299.89 L487.52,301.21 L487.91,302.51 L488.30,303.80 L488.69,305.07 L489.08,306.31 L489.48,307.54 L489.87,308.75 L490.26,309.94 L490.65,311.10 L491.04,312.25 L491.43,313.38 L491.82,314.48 L492.21,315.57 L492.61,316.63 L493.00,317.67 L493.39,318.69 L493.78,319.69 L494.17,320.67 L494.56,321.62 L494.95,322.55 L495.34,323.46 L495.74,324.34 L496.13,325.20 L496.52,326.04 L496.91,326.85 L497.30,327.64 L497.69,328.40 L498.08,329.14 L498.47,329.86 L498.87,330.55 L499.26,331.21 L499.65,331.85 L500.04,332.47 L500.43,333.05 L500.82,333.62 L501.21,334.16 L501.60,334.67 L502.00,335.15 L502.39,335.61 L502.78,336.05 L503.17,336.45 L503.56,336.83 L503.95,337.18 L504.34,337.51 L504.73,337.81 L505.13,338.08 L505.52,338.33 L505.91,338.54 L506.30,338.73 L506.69,338.90 L507.08,339.03 L507.47,339.14 L507.86,339.22 L508.26,339.27 L508.65,339.30 L509.04,339.30 L509.43,339.30 L509.82,339.30 L510.21,339.30 L510.60,339.30 L510.99,339.30 L511.38,339.30 L511.78,339.30 L512.17,339.30 L512.56,339.30 L512.95,339.30 L513.34,339.30 L513.73,339.30 L514.12,339.30 L514.51,339.30 L514.91,339.30 L515.30,339.30 L515.69,339.30 L516.08,339.30 L516.47,339.30 L516.86,339.30 L517.25,339.30 L517.64,339.30 L518.04,339.30 L518.43,339.30 L518.82,339.30 L519.21,339.30 L519.60,339.30 L519.99,339.30 L520.38,339.30 L520.77,339.30 L521.17,339.30 L521.56,339.30 L521.95,339.30 L522.34,339.30 L522.73,339.30 L523.12,339.30 L523.51,339.30 L523.90,339.30 L524.30,339.30 L524.69,339.30 L525.08,339.30 L525.47,339.30 L525.86,339.30 L526.25,339.30 L526.64,339.30 L527.03,339.30 L527.43,339.30 L527.82,339.30 L528.21,339.30 L528.60,339.30 L528.99,339.30 L529.38,339.30 L529.77,339.30 L530.16,339.30 L530.56,339.30 L530.95,339.30 L531.34,339.30 L531.73,339.30 L532.12,339.30 L532.51,339.30 L532.90,339.30 L533.29,339.30 L533.68,339.30 L534.08,339.30 L534.47,339.30 L534.86,339.30 L535.25,339.30 L535.64,339.30 L536.03,339.30 L536.42,339.30 L536.81,339.30 L537.21,339.30 L537.60,339.30 L537.99,339.30 L538.38,339.30 L538.77,339.30 L539.16,339.30 L539.55,339.30 L539.94,339.30 L540.34,339.30 L540.73,339.30 L541.12,339.30 L541.51,339.30" stroke="#ff00ff" stroke-width="2.55"/>
<path d="M178.03,68.8 H549.8" stroke="#00ffff" stroke-width="2.2" stroke-dasharray="5.95 3.74"/>
<path d="M418.28,97.3 H549.8" stroke="#00ffff" stroke-width="2.2" stroke-dasharray="5.95 3.74"/>
</g>
<rect x="63.4" y="53.5" width="486.4" height="300.8" fill="none" stroke="#808080" stroke-width="1.2"/>
<path d="M73.2,354.3 v-3.2 M73.2,53.5 v3.2 M102.4,354.3 v-1.8 M102.4,53.5 v1.8 M131.5,354.3 v-1.8 M131.5,53.5 v1.8 M160.7,354.3 v-1.8 M160.7,53.5 v1.8 M189.8,354.3 v-1.8 M189.8,53.5 v1.8 M219.0,354.3 v-3.2 M219.0,53.5 v3.2 M248.2,354.3 v-1.8 M248.2,53.5 v1.8 M277.3,354.3 v-1.8 M277.3,53.5 v1.8 M306.5,354.3 v-1.8 M306.5,53.5 v1.8 M335.6,354.3 v-1.8 M335.6,53.5 v1.8 M364.8,354.3 v-3.2 M364.8,53.5 v3.2 M394.0,354.3 v-1.8 M394.0,53.5 v1.8 M423.1,354.3 v-1.8 M423.1,53.5 v1.8 M452.3,354.3 v-1.8 M452.3,53.5 v1.8 M481.4,354.3 v-1.8 M481.4,53.5 v1.8 M510.6,354.3 v-3.2 M510.6,53.5 v3.2 M539.8,354.3 v-1.8 M539.8,53.5 v1.8 M63.4,352.0 h1.8 M549.8,352.0 h-1.8 M63.4,339.5 h3.2 M549.8,339.5 h-3.2 M63.4,327.0 h1.8 M549.8,327.0 h-1.8 M63.4,314.5 h1.8 M549.8,314.5 h-1.8 M63.4,302.0 h1.8 M549.8,302.0 h-1.8 M63.4,289.5 h3.2 M549.8,289.5 h-3.2 M63.4,277.0 h1.8 M549.8,277.0 h-1.8 M63.4,264.5 h1.8 M549.8,264.5 h-1.8 M63.4,252.0 h1.8 M549.8,252.0 h-1.8 M63.4,239.5 h3.2 M549.8,239.5 h-3.2 M63.4,227.0 h1.8 M549.8,227.0 h-1.8 M63.4,214.5 h1.8 M549.8,214.5 h-1.8 M63.4,202.0 h1.8 M549.8,202.0 h-1.8 M63.4,189.5 h3.2 M549.8,189.5 h-3.2 M63.4,177.0 h1.8 M549.8,177.0 h-1.8 M63.4,164.5 h1.8 M549.8,164.5 h-1.8 M63.4,152.0 h1.8 M549.8,152.0 h-1.8 M63.4,139.5 h3.2 M549.8,139.5 h-3.2 M63.4,127.0 h1.8 M549.8,127.0 h-1.8 M63.4,114.5 h1.8 M549.8,114.5 h-1.8 M63.4,102.0 h1.8 M549.8,102.0 h-1.8 M63.4,89.5 h3.2 M549.8,89.5 h-3.2 M63.4,77.0 h1.8 M549.8,77.0 h-1.8 M63.4,64.5 h1.8 M549.8,64.5 h-1.8" stroke="#808080" stroke-width="1" fill="none"/>
<text class="n"><tspan x="33.06" y="344.70" font-size="18.00" textLength="25.66" lengthAdjust="spacingAndGlyphs" fill="#666" stroke="#666" stroke-width="0.15">0.0</tspan></text>
<text class="n"><tspan x="33.04" y="294.70" font-size="18.00" textLength="26.28" lengthAdjust="spacingAndGlyphs" fill="#666" stroke="#666" stroke-width="0.15">0.2</tspan></text>
<text class="n"><tspan x="33.07" y="244.70" font-size="18.00" textLength="25.36" lengthAdjust="spacingAndGlyphs" fill="#666" stroke="#666" stroke-width="0.15">0.4</tspan></text>
<text class="n"><tspan x="33.07" y="194.70" font-size="18.00" textLength="25.36" lengthAdjust="spacingAndGlyphs" fill="#666" stroke="#666" stroke-width="0.15">0.6</tspan></text>
<text class="n"><tspan x="33.06" y="144.70" font-size="18.00" textLength="25.66" lengthAdjust="spacingAndGlyphs" fill="#666" stroke="#666" stroke-width="0.15">0.8</tspan></text>
<text class="n"><tspan x="33.44" y="94.70" font-size="18.00" textLength="25.26" lengthAdjust="spacingAndGlyphs" fill="#666" stroke="#666" stroke-width="0.15">1.0</tspan></text>
<text class="n"><tspan x="64.10" y="374.20" font-size="18.00" textLength="10.99" lengthAdjust="spacingAndGlyphs" fill="#666" stroke="#666" stroke-width="0.15">0</tspan></text>
<text class="n"><tspan x="197.70" y="374.20" font-size="18.00" textLength="40.30" lengthAdjust="spacingAndGlyphs" fill="#666" stroke="#666" stroke-width="0.15">5000</tspan></text>
<text class="n"><tspan x="339.77" y="374.20" font-size="18.00" textLength="49.71" lengthAdjust="spacingAndGlyphs" fill="#666" stroke="#666" stroke-width="0.15">10000</tspan></text>
<text class="n"><tspan x="81.61" y="371.20" font-size="18.50" textLength="6.45" lengthAdjust="spacingAndGlyphs" stroke="#000" stroke-width="0.15">t</tspan><tspan x="87.42" y="377.20" font-size="11.30" textLength="6.62" lengthAdjust="spacingAndGlyphs" stroke="#000" stroke-width="0.15">1</tspan></text>
<text class="n"><tspan x="167.51" y="371.20" font-size="18.50" textLength="6.45" lengthAdjust="spacingAndGlyphs" stroke="#000" stroke-width="0.15">t</tspan><tspan x="173.70" y="377.20" font-size="11.30" textLength="6.38" lengthAdjust="spacingAndGlyphs" stroke="#000" stroke-width="0.15">2</tspan></text>
<text class="n"><tspan x="182.81" y="371.20" font-size="18.50" textLength="6.45" lengthAdjust="spacingAndGlyphs" stroke="#000" stroke-width="0.15">t</tspan><tspan x="189.05" y="377.20" font-size="11.30" textLength="5.94" lengthAdjust="spacingAndGlyphs" stroke="#000" stroke-width="0.15">3</tspan></text>
<text class="n"><tspan x="409.21" y="371.20" font-size="18.50" textLength="6.45" lengthAdjust="spacingAndGlyphs" stroke="#000" stroke-width="0.15">t</tspan><tspan x="415.81" y="377.20" font-size="11.30" textLength="5.38" lengthAdjust="spacingAndGlyphs" stroke="#000" stroke-width="0.15">4</tspan></text>
<text class="n"><tspan x="424.21" y="371.20" font-size="18.50" textLength="6.45" lengthAdjust="spacingAndGlyphs" stroke="#000" stroke-width="0.15">t</tspan><tspan x="430.43" y="377.20" font-size="11.30" textLength="6.15" lengthAdjust="spacingAndGlyphs" stroke="#000" stroke-width="0.15">5</tspan></text>
<text class="n"><tspan x="506.61" y="371.20" font-size="18.50" textLength="6.45" lengthAdjust="spacingAndGlyphs" stroke="#000" stroke-width="0.15">t</tspan><tspan x="512.87" y="377.20" font-size="11.30" textLength="5.74" lengthAdjust="spacingAndGlyphs" stroke="#000" stroke-width="0.15">6</tspan></text>
<text class="b"><tspan x="256.00" y="401.50" font-size="18.80" textLength="45.32" lengthAdjust="spacingAndGlyphs" class="r" stroke="#000" stroke-width="0.1">Time</tspan> <tspan x="304.42" y="401.50" font-size="18.80" textLength="40.63" lengthAdjust="spacingAndGlyphs" class="r" stroke="#000" stroke-width="0.1">(au)</tspan></text>
<text class="b" transform="rotate(-90)"><tspan x="-342.61" y="24.70" font-size="20.60" textLength="95.98" lengthAdjust="spacing" class="r" stroke="#000" stroke-width="0.1">Excitonic</tspan> <tspan x="-239.29" y="24.70" font-size="20.60" textLength="54.66" lengthAdjust="spacing" class="r" stroke="#000" stroke-width="0.1">State</tspan> <tspan x="-178.41" y="24.70" font-size="20.60" textLength="113.38" lengthAdjust="spacing" class="r" stroke="#000" stroke-width="0.1">Popluation</tspan></text>
<text class="b" transform="rotate(-90)" fill="#00ffff" stroke="#002828" stroke-width="1.4" stroke-linejoin="round" paint-order="stroke"><tspan x="-293.59" y="567.10" font-size="20.30" textLength="76.33" lengthAdjust="spacing" class="r">Exciton</tspan> <tspan x="-210.49" y="567.10" font-size="20.30" textLength="72.71" lengthAdjust="spacing" class="r">Energy</tspan></text>
<text class="b" fill="#00ffff" stroke="#002828" stroke-width="1.4" stroke-linejoin="round" paint-order="stroke"><tspan x="555.44" y="74.30" font-size="20.30" textLength="13.62" lengthAdjust="spacingAndGlyphs" class="r">E</tspan><tspan x="568.76" y="81.20" font-size="11.00" textLength="7.62" lengthAdjust="spacingAndGlyphs" stroke-width="2.1">1</tspan></text>
<text class="b" fill="#00ffff" stroke="#002828" stroke-width="1.4" stroke-linejoin="round" paint-order="stroke"><tspan x="555.44" y="104.30" font-size="20.30" textLength="13.62" lengthAdjust="spacingAndGlyphs" class="r">E</tspan><tspan x="568.97" y="111.30" font-size="11.00" textLength="8.25" lengthAdjust="spacingAndGlyphs" class="r" stroke-width="2.1">2</tspan></text>
<text class="b"><tspan x="203.72" y="142.50" font-size="21.70" textLength="14.62" lengthAdjust="spacingAndGlyphs" class="r" fill="#808080" stroke="#808080" stroke-width="0.1">0</tspan><tspan x="218.32" y="149.50" font-size="12.80" textLength="7.37" lengthAdjust="spacingAndGlyphs" fill="#808080" stroke="#808080" stroke-width="0.35">e</tspan></text>
<text class="b"><tspan x="198.10" y="168.20" font-size="21.70" textLength="8.77" lengthAdjust="spacingAndGlyphs" fill="#0000ff" stroke="#0000ff" stroke-width="0.35">-</tspan><tspan x="207.26" y="168.20" font-size="21.70" textLength="12.92" lengthAdjust="spacingAndGlyphs" fill="#0000ff" stroke="#0000ff" stroke-width="0.35">1</tspan><tspan x="220.37" y="175.20" font-size="12.80" textLength="8.37" lengthAdjust="spacingAndGlyphs" fill="#0000ff" stroke="#0000ff" stroke-width="0.35">e</tspan></text>
<text class="b"><tspan x="198.10" y="194.00" font-size="21.70" textLength="8.77" lengthAdjust="spacingAndGlyphs" fill="#00ff00" stroke="#00ff00" stroke-width="0.35">-</tspan><tspan x="206.96" y="194.00" font-size="21.70" textLength="15.45" lengthAdjust="spacingAndGlyphs" class="r" fill="#00ff00" stroke="#00ff00" stroke-width="0.1">2</tspan><tspan x="220.37" y="201.00" font-size="12.80" textLength="8.37" lengthAdjust="spacingAndGlyphs" fill="#00ff00" stroke="#00ff00" stroke-width="0.35">e</tspan></text>
<text class="b"><tspan x="198.10" y="219.80" font-size="21.70" textLength="8.77" lengthAdjust="spacingAndGlyphs" stroke="#000" stroke-width="0.35">-</tspan><tspan x="207.00" y="219.80" font-size="21.70" textLength="14.47" lengthAdjust="spacingAndGlyphs" class="r" stroke="#000" stroke-width="0.1">3</tspan><tspan x="220.37" y="226.80" font-size="12.80" textLength="8.37" lengthAdjust="spacingAndGlyphs" stroke="#000" stroke-width="0.35">e</tspan></text>
<text class="b"><tspan x="203.67" y="245.80" font-size="21.70" textLength="14.84" lengthAdjust="spacingAndGlyphs" class="r" fill="#ff8000" stroke="#ff8000" stroke-width="0.1">3</tspan><tspan x="218.32" y="252.80" font-size="12.80" textLength="7.37" lengthAdjust="spacingAndGlyphs" fill="#ff8000" stroke="#ff8000" stroke-width="0.35">e</tspan></text>
<text class="b"><tspan x="203.58" y="271.40" font-size="21.70" textLength="15.32" lengthAdjust="spacingAndGlyphs" class="r" fill="#ff00ff" stroke="#ff00ff" stroke-width="0.1">2</tspan><tspan x="218.32" y="278.40" font-size="12.80" textLength="7.37" lengthAdjust="spacingAndGlyphs" fill="#ff00ff" stroke="#ff00ff" stroke-width="0.35">e</tspan></text>
<text class="b"><tspan x="203.69" y="297.40" font-size="21.70" textLength="14.09" lengthAdjust="spacingAndGlyphs" fill="#996633" stroke="#996633" stroke-width="0.35">1</tspan><tspan x="218.32" y="304.40" font-size="12.80" textLength="7.37" lengthAdjust="spacingAndGlyphs" fill="#996633" stroke="#996633" stroke-width="0.35">e</tspan></text>
<text class="b"><tspan x="43.27" y="22.00" font-size="20.80" textLength="30.49" lengthAdjust="spacingAndGlyphs" class="r" stroke="#000" stroke-width="0.1">GS</tspan> <tspan x="76.30" y="22.00" font-size="20.80" textLength="17.92" lengthAdjust="spacingAndGlyphs" class="r" stroke="#000" stroke-width="0.1">+</tspan> <tspan x="99.61" y="22.00" font-size="20.80" textLength="13.96" lengthAdjust="spacingAndGlyphs" stroke="#000" stroke-width="0.35">1</tspan><tspan x="113.86" y="32.80" font-size="19.00" textLength="11.78" lengthAdjust="spacingAndGlyphs" stroke="#000" stroke-width="0.35">p</tspan> <tspan x="128.84" y="22.00" font-size="20.80" textLength="17.53" lengthAdjust="spacingAndGlyphs" class="r" stroke="#000" stroke-width="0.1">=</tspan> <tspan x="152.11" y="22.00" font-size="20.80" textLength="13.96" lengthAdjust="spacingAndGlyphs" stroke="#000" stroke-width="0.35">1</tspan><tspan x="165.69" y="32.80" font-size="19.00" textLength="11.94" lengthAdjust="spacingAndGlyphs" stroke="#000" stroke-width="0.35">e</tspan></text>
<text class="b"><tspan x="218.69" y="22.00" font-size="20.80" textLength="14.09" lengthAdjust="spacingAndGlyphs" stroke="#000" stroke-width="0.35">1</tspan><tspan x="232.38" y="32.80" font-size="19.00" textLength="12.05" lengthAdjust="spacingAndGlyphs" stroke="#000" stroke-width="0.35">e</tspan> <tspan x="243.50" y="22.00" font-size="20.80" textLength="17.92" lengthAdjust="spacingAndGlyphs" class="r" stroke="#000" stroke-width="0.1">=</tspan> <tspan x="266.58" y="22.00" font-size="20.80" textLength="15.32" lengthAdjust="spacingAndGlyphs" class="r" stroke="#000" stroke-width="0.1">2</tspan><tspan x="280.18" y="32.80" font-size="19.00" textLength="12.17" lengthAdjust="spacingAndGlyphs" stroke="#000" stroke-width="0.35">e</tspan> <tspan x="297.52" y="22.00" font-size="20.80" textLength="17.66" lengthAdjust="spacingAndGlyphs" class="r" stroke="#000" stroke-width="0.1">+</tspan> <tspan x="320.62" y="22.00" font-size="20.80" textLength="10.97" lengthAdjust="spacingAndGlyphs" class="r" stroke="#000" stroke-width="0.1">(</tspan><tspan x="331.25" y="22.00" font-size="20.80" textLength="9.96" lengthAdjust="spacingAndGlyphs" stroke="#000" stroke-width="0.35">-</tspan><tspan x="339.87" y="22.00" font-size="20.80" textLength="14.22" lengthAdjust="spacingAndGlyphs" stroke="#000" stroke-width="0.35">1</tspan><tspan x="353.03" y="22.00" font-size="20.80" textLength="11.55" lengthAdjust="spacingAndGlyphs" class="r" stroke="#000" stroke-width="0.1">)</tspan><tspan x="363.33" y="32.80" font-size="19.00" textLength="12.01" lengthAdjust="spacingAndGlyphs" stroke="#000" stroke-width="0.35">p</tspan></text>
<text class="b"><tspan x="414.99" y="22.00" font-size="20.80" textLength="15.19" lengthAdjust="spacingAndGlyphs" class="r" stroke="#000" stroke-width="0.1">2</tspan><tspan x="428.58" y="32.80" font-size="19.00" textLength="12.05" lengthAdjust="spacingAndGlyphs" stroke="#000" stroke-width="0.35">e</tspan> <tspan x="443.00" y="22.00" font-size="20.80" textLength="17.92" lengthAdjust="spacingAndGlyphs" class="r" stroke="#000" stroke-width="0.1">=</tspan> <tspan x="466.04" y="22.00" font-size="20.80" textLength="31.57" lengthAdjust="spacingAndGlyphs" class="r" stroke="#000" stroke-width="0.1">GS</tspan> <tspan x="502.21" y="22.00" font-size="20.80" textLength="17.79" lengthAdjust="spacingAndGlyphs" class="r" stroke="#000" stroke-width="0.1">+</tspan> <tspan x="525.78" y="22.00" font-size="20.80" textLength="15.32" lengthAdjust="spacingAndGlyphs" class="r" stroke="#000" stroke-width="0.1">2</tspan><tspan x="539.61" y="32.80" font-size="19.00" textLength="12.25" lengthAdjust="spacingAndGlyphs" stroke="#000" stroke-width="0.35">p</tspan></text>
<path d="M86.8,40.6 H166.1" stroke="#000" stroke-width="2.3" fill="none"/>
<path d="M83.8,40.6 l5,-7.5 v15 z M169.1,40.6 l-5,-7.5 v15 z" fill="#000"/>
<path d="M186.9,40.6 H408.6" stroke="#000" stroke-width="2.3" fill="none"/>
<path d="M183.9,40.6 l5,-7.5 v15 z M411.6,40.6 l-5,-7.5 v15 z" fill="#000"/>
<path d="M429.6,40.6 H506.1" stroke="#000" stroke-width="2.3" fill="none"/>
<path d="M426.6,40.6 l5,-7.5 v15 z M509.1,40.6 l-5,-7.5 v15 z" fill="#000"/>
</svg></body></html>
